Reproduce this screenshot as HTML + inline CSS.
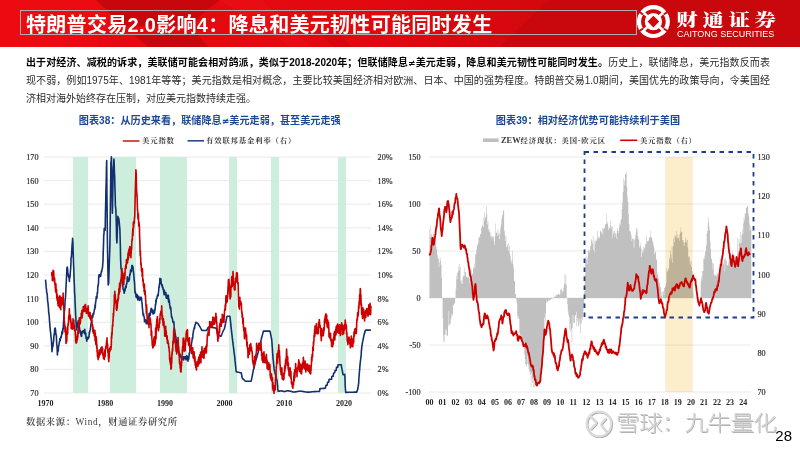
<!DOCTYPE html>
<html lang="zh-CN">
<head>
<meta charset="utf-8">
<title>特朗普交易2.0影响4</title>
<style>
*{margin:0;padding:0;box-sizing:border-box}
html,body{width:800px;height:449px;overflow:hidden;background:#fff}
body{position:relative;font-family:"Liberation Sans","Noto Sans CJK SC",sans-serif}
#hdr{position:absolute;left:0;top:0;width:800px;height:46.6px;overflow:hidden}
#ttl{position:absolute;left:20px;top:10px;width:617px;height:25px;border:1px solid #b4aab4}
#ttl span{position:absolute;left:5px;top:0px;font-family:"Liberation Sans","Noto Sans CJK SC",sans-serif;font-weight:700;font-size:20px;letter-spacing:0.3px;line-height:28px;color:#fff;white-space:nowrap}
#cn{position:absolute;left:676.3px;top:10.6px;font-family:"Liberation Serif","Noto Serif CJK SC",serif;font-weight:900;font-size:21.5px;line-height:24px;letter-spacing:4.6px;color:#fff;white-space:nowrap;transform:scaleY(0.77);transform-origin:0 0}
#en{position:absolute;left:677px;top:28.8px;font-family:"Liberation Sans",sans-serif;font-size:9px;line-height:10px;color:#fff;white-space:nowrap}
#para{position:absolute;left:26px;top:54px;width:744px;height:54px;font-family:"Liberation Sans","Noto Sans CJK SC",sans-serif;font-size:10px;line-height:17.7px;color:#2a2a2a;text-align:justify;text-align-last:left}
.pl{position:absolute;left:0;width:744px;white-space:nowrap;text-align:justify;text-align-last:justify;line-height:17.7px}
.pl3{text-align-last:left}
.ne{font-family:"DejaVu Sans",sans-serif;font-size:0.9em}
#para b{color:#000;font-weight:700}
.ctitle{position:absolute;font-family:"Liberation Sans","Noto Sans CJK SC",sans-serif;font-weight:700;font-size:10.15px;line-height:14px;color:#1d4893;white-space:nowrap}
.leg{position:absolute;font-family:"Liberation Serif","Noto Serif CJK SC",serif;font-size:7.3px;line-height:10px;letter-spacing:0.9px;font-weight:700;color:#383838;white-space:nowrap}
#src{position:absolute;left:26px;top:415px;font-family:"Liberation Serif","Noto Serif CJK SC",serif;font-size:9.3px;font-weight:600;letter-spacing:0.62px;line-height:14px;color:#3c3c3c;white-space:nowrap}
#wm{position:absolute;left:616px;top:408px;font-family:"Liberation Sans","Noto Sans CJK SC",sans-serif;font-weight:300;font-size:21px;line-height:30px;color:#d2d2d2;letter-spacing:-0.75px;white-space:nowrap;transform:scaleX(1.13);transform-origin:0 0;text-shadow:0.7px 0.7px 0 #b2b2b2,-0.5px -0.5px 0 #f4f4f4}
#pg{position:absolute;left:775.3px;top:426.5px;font-family:"Liberation Sans",sans-serif;font-size:15px;line-height:17px;color:#000}
svg{position:absolute;left:0;top:0}
.g{stroke:#e4e4e4;stroke-width:0.8}
.axb{font-family:"Liberation Serif",serif;font-size:8px;font-weight:bold;fill:#262626}
.ln{fill:none;stroke-width:1.6;stroke-linejoin:round}
.ln2{fill:none;stroke-width:1.8;stroke-linejoin:round}
.ax{font-family:"Liberation Serif",serif;font-size:8.2px;fill:#262626;stroke:#333;stroke-width:0.18}
</style>
</head>
<body>
<div id="hdr">
<svg width="800" height="47" viewBox="0 0 800 47">
<defs>
<linearGradient id="hg" x1="0" y1="0" x2="1" y2="0">
<stop offset="0" stop-color="#e80a10"/><stop offset="0.45" stop-color="#e2090f"/><stop offset="0.7" stop-color="#d2080d"/><stop offset="1" stop-color="#c8080c"/>
</linearGradient>
</defs>
<rect width="800" height="47" fill="url(#hg)"/>
<polygon points="0,0 96,0 107,10.5 96,47 0,47" fill="#ec0c12" opacity="0.7"/>
<polygon points="96,0 220,0 206,10.5 190,26 122,26 107,10.5" fill="#c8070c"/>
<polygon points="134,34.5 197,34.5 209,47 148,47" fill="#c8070c"/>
<polygon points="220,0 262,0 300,38 310,46 290,46" fill="#ec1016" opacity="0.6"/>
<polygon points="549,0 800,0 800,47 499,47" fill="#c9080d"/>
<polygon points="322,35 340,35 352,47 334,47" fill="#d0070c" opacity="0.6"/>
<g fill="#fff">
<circle cx="653.4" cy="21.6" r="16.5"/>
</g>
<g fill="none" stroke="#cc080d">
<circle cx="653.4" cy="21.6" r="10.5" stroke-width="3.6"/>
</g>
<g stroke="#fff" stroke-width="2.6" stroke-linecap="butt">
<line x1="647.6" y1="16.4" x2="643.6" y2="12.6"/>
<line x1="659.2" y1="16.4" x2="663.2" y2="12.6"/>
<line x1="647.6" y1="26.8" x2="643.6" y2="30.6"/>
<line x1="659.2" y1="26.8" x2="663.2" y2="30.6"/>
</g>
<g stroke="#cc080d" stroke-width="1.9">
<line x1="643.0" y1="14.6" x2="637.4" y2="10.6"/>
<line x1="663.8" y1="14.6" x2="669.4" y2="10.6"/>
<line x1="643.0" y1="28.6" x2="637.4" y2="32.6"/>
<line x1="663.8" y1="28.6" x2="669.4" y2="32.6"/>
</g>
<polygon points="653.4,15.8 659.2,21.6 653.4,27.4 647.6,21.6" fill="#cc080d"/>
</svg>
<div id="ttl"><span>特朗普交易2.0影响4：降息和美元韧性可能同时发生</span></div>
<div id="cn">财通证券</div>
<div id="en">CAITONG SECURITIES</div>
</div>

<div id="para"><div class="pl" style="top:0"><b>出于对经济、减税的诉求，美联储可能会相对鸽派，类似于2018-2020年；但联储降息<span class="ne">≠</span>美元走弱，降息和美元韧性可能同时发生。</b>历史上，联储降息，美元指数反而表</div><div class="pl" style="top:18px">现不弱，例如1975年、1981年等等；美元指数是相对概念，主要比较美国经济相对欧洲、日本、中国的强势程度。特朗普交易1.0期间，美国优先的政策导向，令美国经</div><div class="pl pl3" style="top:36.2px">济相对海外始终存在压制，对应美元指数持续走强。</div></div>

<div class="ctitle" style="left:78.8px;top:113.8px">图表38：从历史来看，联储降息<span class="ne">≠</span>美元走弱，甚至美元走强</div>
<div class="ctitle" style="left:495.8px;top:114px;letter-spacing:0.05px">图表39：相对经济优势可能持续利于美国</div>

<svg width="800" height="449" viewBox="0 0 800 449" style="top:0;left:0">
<line x1="122.8" x2="139.5" y1="141" y2="141" stroke="#d42020" stroke-width="1.6"/>
<line x1="187.5" x2="204" y1="140.8" y2="140.8" stroke="#2a4690" stroke-width="1.6"/>
<rect x="483" y="138.4" width="15.6" height="3.6" fill="#bfbfbf"/>
<line x1="620.2" x2="637.3" y1="140.3" y2="140.3" stroke="#d00000" stroke-width="1.6"/>
<line x1="44" x2="371.2" y1="393" y2="393" class="g"/>
<line x1="44" x2="371.2" y1="369.4" y2="369.4" class="g"/>
<line x1="44" x2="371.2" y1="345.8" y2="345.8" class="g"/>
<line x1="44" x2="371.2" y1="322.2" y2="322.2" class="g"/>
<line x1="44" x2="371.2" y1="298.6" y2="298.6" class="g"/>
<line x1="44" x2="371.2" y1="275" y2="275" class="g"/>
<line x1="44" x2="371.2" y1="251.4" y2="251.4" class="g"/>
<line x1="44" x2="371.2" y1="227.8" y2="227.8" class="g"/>
<line x1="44" x2="371.2" y1="204.2" y2="204.2" class="g"/>
<line x1="44" x2="371.2" y1="180.6" y2="180.6" class="g"/>
<line x1="44" x2="371.2" y1="157" y2="157" class="g"/>
<rect x="73" y="157" width="15" height="236" fill="#cdeedd"/>
<rect x="110" y="157" width="26" height="236" fill="#cdeedd"/>
<rect x="160" y="157" width="27" height="236" fill="#cdeedd"/>
<rect x="229" y="157" width="8" height="236" fill="#cdeedd"/>
<rect x="271" y="157" width="8" height="236" fill="#cdeedd"/>
<rect x="338" y="157" width="8" height="236" fill="#cdeedd"/>
<polyline class="ln" stroke="#12306f" points="45.5,279.7 45.7,281.6 46,284.7 46.2,287.9 46.5,289.5 46.7,292.6 47,293.4 47.2,293.9 47.5,299 47.7,301.8 48,302.9 48.2,305.7 48.5,308.7 48.7,312.8 49,314.1 49.2,315.7 49.5,321.2 49.7,322.6 50,327.3 50.2,329 50.5,332.4 50.7,332.8 51,337.1 51.2,338.1 51.5,341.4 51.7,345.1 52,351.6 52.2,349.2 52.5,347 52.7,345.3 53,346.2 53.2,343.2 53.5,341.9 53.7,339.6 54,334.8 54.2,335.3 54.5,332.1 54.7,328.7 55,328.6 55.2,328.1 55.5,329.5 55.7,331.3 55.9,334.8 56.2,334.7 56.4,336.4 56.7,344.5 56.9,345 57.2,350 57.4,355 57.7,349.8 57.9,350 58.2,351.3 58.4,348.1 58.7,345.9 58.9,345.5 59.2,342.8 59.4,342.7 59.7,340.7 59.9,338.6 60.2,340.7 60.4,338.4 60.7,338.4 60.9,336.6 61.2,337.5 61.4,335.9 61.7,334.5 61.9,332.1 62.2,331 62.4,333.6 62.7,332.1 62.9,328.4 63.2,329.2 63.4,324 63.7,320.6 63.9,315.7 64.2,313.4 64.4,311.5 64.7,308.3 64.9,304.9 65.2,299.1 65.4,298.6 65.6,295.1 65.9,289.9 66.1,285 66.4,279.4 66.6,275.1 66.9,267.8 67.1,267.4 67.4,267.1 67.6,269.7 67.9,272.7 68.1,273.7 68.4,276.3 68.6,275.3 68.9,277.8 69.1,277.9 69.4,281.5 69.6,277 69.9,277.7 70.1,276 70.4,271.3 70.6,269.6 70.9,264.1 71.1,257.3 71.4,257.7 71.6,253.5 71.9,248.5 72.1,244.5 72.4,241.8 72.6,238.3 72.9,242.1 73.1,249.6 73.4,259.1 73.6,265 73.9,272.1 74.1,280.9 74.4,285.3 74.6,292.7 74.9,296 75.1,303 75.4,309.1 75.6,314 75.8,317.3 76.1,323.8 76.3,326.6 76.6,327.4 76.8,329.9 77.1,324.7 77.3,327.4 77.6,322.9 77.8,324.2 78.1,320.9 78.3,320.8 78.6,324.7 78.8,322.2 79.1,323.4 79.3,327 79.6,328.8 79.8,330.1 80.1,332.7 80.3,330.7 80.6,333.7 80.8,333.8 81.1,335.6 81.3,336.1 81.6,336.3 81.8,332.1 82.1,333.4 82.3,331.2 82.6,331.9 82.8,332.2 83.1,331.1 83.3,331.4 83.6,330.7 83.8,331.5 84.1,331.5 84.3,333.2 84.6,332.6 84.8,329.2 85.1,333.2 85.3,334.7 85.5,333.7 85.8,333.2 86,338.2 86.3,337.4 86.5,339 86.8,341.1 87,337.4 87.3,338.4 87.5,338.1 87.8,339.1 88,337.2 88.3,338.4 88.5,337.5 88.8,337.7 89,336.7 89.3,332 89.5,333.4 89.8,331.2 90,330.5 90.3,329.9 90.5,328.2 90.8,324.8 91,324.3 91.3,322.3 91.5,320.2 91.8,316.8 92,315.7 92.3,315.5 92.5,316.5 92.8,317.3 93,313.7 93.3,313.4 93.5,314.6 93.8,313.3 94,311.9 94.3,310.4 94.5,308.8 94.8,309.3 95,305 95.3,307.4 95.5,303 95.7,302 96,300 96.2,297.1 96.5,296.2 96.7,298.5 97,297.7 97.2,292.7 97.5,293.5 97.7,289.2 98,285 98.2,285.6 98.5,283.3 98.7,277 99,274.9 99.2,275.2 99.5,274.6 99.7,275.8 100,276.6 100.2,274.5 100.5,275.5 100.7,276.3 101,273.1 101.2,272.9 101.5,270.9 101.7,271.5 102,269.8 102.2,268.9 102.5,267.5 102.7,264.6 103,261.2 103.2,252.5 103.5,245.4 103.7,235.8 104,233.6 104.2,228.5 104.5,229.4 104.7,228.8 105,230.3 105.2,228.5 105.4,214.5 105.7,203.3 105.9,191.9 106.2,181.9 106.4,169.4 106.7,160.6 106.9,191.7 107.2,217.6 107.4,240.4 107.7,258.6 107.9,271.2 108.2,284.9 108.4,284.3 108.7,283.5 108.9,277.4 109.2,266.3 109.4,259.6 109.7,251.6 109.9,243.7 110.2,224.3 110.4,201.3 110.7,179.7 110.9,162.1 111.2,161.4 111.4,156.8 111.7,171.1 111.9,185 112.2,204.7 112.4,213.2 112.7,198.3 112.9,185.4 113.2,173.4 113.4,167.9 113.7,164.7 113.9,159.1 114.2,163.5 114.4,171.7 114.7,176.3 114.9,186.6 115.2,196.2 115.4,206.2 115.6,207.5 115.9,209.9 116.1,216.5 116.4,227.9 116.6,238.6 116.9,242.9 117.1,238 117.4,229.9 117.6,224.1 117.9,216.3 118.1,217.4 118.4,217.7 118.6,218.3 118.9,219.3 119.1,221.1 119.4,224 119.6,226.3 119.9,229.7 120.1,237.5 120.4,248.6 120.6,259.3 120.9,265.9 121.1,269.2 121.4,269.2 121.6,274 121.9,277.8 122.1,281.1 122.4,284.8 122.6,286 122.9,286.9 123.1,289.2 123.4,289.6 123.6,290.2 123.9,290.3 124.1,293.3 124.4,291.7 124.6,291.9 124.9,288.8 125.1,290.5 125.3,287.9 125.6,286 125.8,287.9 126.1,287.7 126.3,285.1 126.6,283.9 126.8,283.8 127.1,280.2 127.3,276.9 127.6,280.1 127.8,280 128.1,281.2 128.3,279.3 128.6,281.5 128.8,281.3 129.1,277.9 129.3,279.9 129.6,275.9 129.8,274.1 130.1,274.8 130.3,273.2 130.6,270.1 130.8,272 131.1,271.5 131.3,271.6 131.6,268.6 131.8,265.6 132.1,265.4 132.3,267.1 132.6,266 132.8,266.6 133.1,267.9 133.3,271.1 133.6,272.9 133.8,275.3 134.1,278.6 134.3,280.7 134.6,283.8 134.8,289.1 135.1,293.2 135.3,291.4 135.5,293.4 135.8,294.3 136,296.9 136.3,294.2 136.5,297.6 136.8,297 137,294.4 137.3,295.2 137.5,297.1 137.8,300 138,298.7 138.3,299.8 138.5,298.6 138.8,296.4 139,298.9 139.3,300 139.5,300.3 139.8,298.4 140,298.2 140.3,299.2 140.5,297.5 140.8,299.7 141,297 141.3,297.6 141.5,298 141.8,301.9 142,303 142.3,306.4 142.5,309.2 142.8,311.6 143,314.3 143.3,315.7 143.5,313.7 143.8,316.2 144,316.8 144.3,316.8 144.5,321.8 144.8,321.1 145,320.1 145.2,320.1 145.5,321.6 145.7,319.9 146,321.4 146.2,323.7 146.5,323.4 146.7,320.6 147,320.8 147.2,323.8 147.5,318.8 147.7,319.6 148,318.2 148.2,320.2 148.5,319.3 148.7,319.6 149,313.6 149.2,316.6 149.5,313.3 149.7,315.7 150,313.7 150.2,315.5 150.5,312.8 150.7,310.1 151,312.4 151.2,308.3 151.5,308.5 151.7,309.7 152,309.5 152.2,310.5 152.5,310.9 152.7,312.5 153,313.9 153.2,312.9 153.5,313.6 153.7,313.6 154,311.5 154.2,309.9 154.5,313 154.7,310.5 155,310 155.2,308.8 155.4,304.6 155.7,304.9 155.9,300.4 156.2,302 156.4,298.7 156.7,298.5 156.9,298.6 157.2,296.1 157.4,296.5 157.7,294.7 157.9,295 158.2,295.8 158.4,293.1 158.7,290.6 158.9,287 159.2,287.4 159.4,283.8 159.7,283.9 159.9,278.3 160.2,279.1 160.4,281.1 160.7,279.6 160.9,278.9 161.2,283.6 161.4,284 161.7,284.5 161.9,286 162.2,284.8 162.4,287.3 162.7,288 162.9,287.1 163.2,289.8 163.4,289 163.7,291.8 163.9,293 164.2,294.8 164.4,290.2 164.7,293.7 164.9,293.3 165.1,294.1 165.4,294.3 165.6,294.8 165.9,292.6 166.1,297.2 166.4,298.1 166.6,297.5 166.9,298.1 167.1,295.4 167.4,295.4 167.6,298.2 167.9,298.9 168.1,297.7 168.4,295.4 168.6,302.2 168.9,298.8 169.1,302.4 169.4,300.7 169.6,305 169.9,305.2 170.1,308.2 170.4,308.8 170.6,307 170.9,309.2 171.1,312.4 171.4,314.6 171.6,317.5 171.9,316.9 172.1,317.7 172.4,318.8 172.6,319.8 172.9,322.2 173.1,321.7 173.4,322.6 173.6,321.7 173.9,321.9 174.1,326.4 174.4,328.8 174.6,329.4 174.9,331.8 175.1,333.6 175.3,334.2 175.6,337.2 175.8,336.5 176.1,339.1 176.3,340 176.6,341.9 176.8,343.9 177.1,345.4 177.3,345.6 177.6,347.1 177.8,346.8 178.1,348 178.3,350.8 178.6,349.7 178.8,352.5 179.1,352.4 179.3,352.8 179.6,356.1 179.8,353.9 180.1,354.3 180.3,355.3 180.6,356.1 180.8,356.6 181.1,357.9 181.3,357.4 181.6,358.3 181.8,357.5 182.1,359.3 182.3,357.3 182.6,357.4 182.8,357.8 183.1,358.2 183.3,356.8 183.6,360 183.8,356.9 184.1,357.3 184.3,357.2 184.6,357.1 184.8,358.5 185,358 185.3,356.7 185.5,357 185.8,357.3 186,359.7 186.3,356.8 186.5,355.9 186.8,356.2 187,357.3 187.3,359.8 187.5,356.3 187.8,357.8 188,361.2 188.3,357.1 188.5,359.5 188.8,358.3 189,356.3 189.3,352.7 189.5,354 189.8,352.1 190,349 190.3,347.9 190.5,349 190.8,347.8 191,348 191.3,345.9 191.5,343 191.8,341.7 192,340.6 192.3,337.9 192.5,338.9 192.8,336.4 193,333.8 193.3,332.6 193.5,330.4 193.8,329.9 194,329.4 194.3,327.3 194.5,328.4 194.8,326.1 195,325.3 195.2,324.5 195.5,323.7 195.7,322.9 196,322.2 196.2,322.4 196.5,322.6 196.7,322.7 197,322.9 197.2,323.1 197.5,323.2 197.7,323.4 198,323.7 198.2,324.1 198.5,324.5 198.7,324.9 199,325.2 199.2,325.6 199.5,326 199.7,326.3 200,326.7 200.2,327.1 200.5,327.6 200.7,328.1 201,328.6 201.2,329.1 201.5,329.6 201.7,330.1 202,330.5 202.2,330.5 202.5,330.5 202.7,330.5 203,330.5 203.2,330.5 203.5,330.5 203.7,330.5 204,330.5 204.2,330.5 204.5,330.5 204.7,330.5 204.9,330.5 205.2,330.5 205.4,330.5 205.7,330.5 205.9,330.5 206.2,330.5 206.4,330.5 206.7,330.5 206.9,330 207.2,329.5 207.4,329 207.7,328.5 207.9,328 208.2,327.5 208.4,327 208.7,327 208.9,327 209.2,327 209.4,327.1 209.7,327.1 209.9,327.1 210.2,327.2 210.4,327.2 210.7,327.3 210.9,327.3 211.2,327.3 211.4,327.4 211.7,327.4 211.9,327.4 212.2,327.5 212.4,327.5 212.7,327.6 212.9,327.6 213.2,327.6 213.4,327.7 213.7,327.7 213.9,327.7 214.2,327.8 214.4,327.8 214.7,327.9 214.9,327.9 215.1,327.9 215.4,328 215.6,328 215.9,328 216.1,328.1 216.4,328.7 216.6,329.7 216.9,330.7 217.1,331.6 217.4,332.6 217.6,333.6 217.9,334.6 218.1,335.2 218.4,335.3 218.6,335.4 218.9,335.5 219.1,335.6 219.4,335.7 219.6,335.8 219.9,335.9 220.1,336 220.4,336.1 220.6,336.2 220.9,336.3 221.1,336.1 221.4,335.4 221.6,334.8 221.9,334.1 222.1,333.5 222.4,332.8 222.6,332.2 222.9,331.5 223.1,331 223.4,330.6 223.6,330.1 223.9,329.6 224.1,329.1 224.4,328.6 224.6,328.1 224.8,326.9 225.1,325.6 225.3,324.4 225.6,323.2 225.8,322 226.1,320.7 226.3,319.5 226.6,318.3 226.8,317 227.1,316.3 227.3,316.3 227.6,316.3 227.8,316.3 228.1,316.3 228.3,316.3 228.6,316.3 228.8,316.3 229.1,316.3 229.3,316.3 229.6,316.3 229.8,316.3 230.1,317.3 230.3,319.7 230.6,322.2 230.8,324.7 231.1,327.1 231.3,329.4 231.6,331.5 231.8,333.6 232.1,335.8 232.3,337.9 232.6,340 232.8,342.2 233.1,344.2 233.3,346.2 233.6,348.2 233.8,350.1 234.1,352.1 234.3,354.1 234.6,356 234.8,358.1 235,360.4 235.3,362.8 235.5,365.2 235.8,367.5 236,369.9 236.3,371.8 236.5,371.8 236.8,371.9 237,371.9 237.3,372 237.5,372.1 237.8,372.1 238,372.2 238.3,372.2 238.5,372.3 238.8,372.4 239,372.4 239.3,372.5 239.5,372.5 239.8,372.6 240,372.6 240.3,372.7 240.5,372.8 240.8,372.8 241,372.9 241.3,372.9 241.5,374.1 241.8,375.6 242,377.1 242.3,378.3 242.5,378.5 242.8,378.7 243,379 243.3,379.2 243.5,379.4 243.8,379.6 244,379.9 244.3,380.1 244.5,380.3 244.7,380.5 245,380.8 245.2,381 245.5,381.2 245.7,381.2 246,381.2 246.2,381.2 246.5,381.2 246.7,381.2 247,381.2 247.2,381.2 247.5,381.2 247.7,381.2 248,381.2 248.2,381.2 248.5,381.2 248.7,381.2 249,381.2 249.2,381.2 249.5,381.2 249.7,381.2 250,381.2 250.2,381.2 250.5,381.2 250.7,381.2 251,381.2 251.2,380.9 251.5,379.7 251.7,378.4 252,377.2 252.2,375.9 252.5,374.6 252.7,373.4 253,372.1 253.2,370.8 253.5,369.8 253.7,368.8 254,367.8 254.2,366.8 254.5,365.9 254.7,364.9 254.9,363.9 255.2,362.9 255.4,361.9 255.7,361 255.9,360.1 256.2,359.2 256.4,358.4 256.7,357.5 256.9,356.7 257.2,355.8 257.4,354.9 257.7,354.1 257.9,353.2 258.2,352.2 258.4,351.1 258.7,350 258.9,348.8 259.2,347.7 259.4,346.6 259.7,345.5 259.9,344.3 260.2,343.3 260.4,342.3 260.7,341.4 260.9,340.4 261.2,339.5 261.4,338.6 261.7,337.6 261.9,336.7 262.2,335.7 262.4,334.8 262.7,333.9 262.9,332.9 263.2,332 263.4,331.1 263.7,331.1 263.9,331.1 264.2,331.1 264.4,331.1 264.6,331.1 264.9,331.1 265.1,331.1 265.4,331.1 265.6,331.1 265.9,331.1 266.1,331.1 266.4,331.1 266.6,331.1 266.9,331.1 267.1,331.1 267.4,331.1 267.6,331.1 267.9,331.1 268.1,331.1 268.4,331.1 268.6,331.1 268.9,331.1 269.1,331.1 269.4,331.1 269.6,331.1 269.9,331.1 270.1,331.8 270.4,333 270.6,334.2 270.9,335.5 271.1,336.7 271.4,337.9 271.6,339.2 271.9,341.4 272.1,345.1 272.4,348.8 272.6,352.4 272.9,356.1 273.1,359.1 273.4,361.5 273.6,364 273.9,366.5 274.1,368.9 274.4,370.2 274.6,371.2 274.8,372.2 275.1,373.1 275.3,374.1 275.6,375.1 275.8,376.1 276.1,377.1 276.3,378.1 276.6,379 276.8,380 277.1,381 277.3,383.4 277.6,386.2 277.8,388.9 278.1,391.1 278.3,391.2 278.6,391.2 278.8,391.2 279.1,391.1 279.3,391.1 279.6,391.1 279.8,391.1 280.1,391 280.3,391 280.6,391 280.8,390.9 281.1,390.9 281.3,390.9 281.6,390.9 281.8,391 282.1,391.1 282.3,391.1 282.6,391.2 282.8,391.2 283.1,391.3 283.3,391.3 283.6,391.4 283.8,391.5 284.1,391.5 284.3,391.6 284.5,391.5 284.8,391.4 285,391.4 285.3,391.3 285.5,391.2 285.8,391.2 286,391.1 286.3,391 286.5,391 286.8,390.9 287,390.8 287.3,390.8 287.5,390.8 287.8,390.8 288,390.8 288.3,390.9 288.5,390.9 288.8,390.9 289,391 289.3,391 289.5,391 289.8,391.1 290,391.1 290.3,391.1 290.5,391.2 290.8,391.3 291,391.3 291.3,391.4 291.5,391.5 291.8,391.6 292,391.7 292.3,391.7 292.5,391.8 292.8,391.9 293,392 293.3,392.1 293.5,392 293.8,392 294,392 294.3,392 294.5,392 294.7,391.9 295,391.9 295.2,391.9 295.5,391.9 295.7,391.9 296,391.8 296.2,391.8 296.5,391.8 296.7,391.7 297,391.6 297.2,391.6 297.5,391.5 297.7,391.5 298,391.4 298.2,391.3 298.5,391.3 298.7,391.2 299,391.2 299.2,391.1 299.5,391.1 299.7,391.2 300,391.2 300.2,391.2 300.5,391.2 300.7,391.2 301,391.2 301.2,391.3 301.5,391.3 301.7,391.3 302,391.3 302.2,391.3 302.5,391.4 302.7,391.4 303,391.5 303.2,391.5 303.5,391.6 303.7,391.6 304,391.7 304.2,391.7 304.4,391.8 304.7,391.8 304.9,391.9 305.2,391.9 305.4,392 305.7,392 305.9,392 306.2,392 306.4,392 306.7,392.1 306.9,392.1 307.2,392.1 307.4,392.1 307.7,392.1 307.9,392.2 308.2,392.2 308.4,392.2 308.7,392.1 308.9,392.1 309.2,392.1 309.4,392.1 309.7,392.1 309.9,392 310.2,392 310.4,392 310.7,392 310.9,392 311.2,391.9 311.4,391.9 311.7,391.9 311.9,391.8 312.2,391.8 312.4,391.8 312.7,391.8 312.9,391.7 313.2,391.7 313.4,391.7 313.7,391.6 313.9,391.6 314.2,391.6 314.4,391.6 314.6,391.6 314.9,391.6 315.1,391.6 315.4,391.6 315.6,391.6 315.9,391.5 316.1,391.5 316.4,391.5 316.6,391.5 316.9,391.5 317.1,391.5 317.4,391.5 317.6,391.5 317.9,391.5 318.1,391.5 318.4,391.5 318.6,391.5 318.9,391.5 319.1,391.5 319.4,391.5 319.6,390.7 319.9,388.7 320.1,388.6 320.4,388.6 320.6,388.6 320.9,388.6 321.1,388.6 321.4,388.5 321.6,388.5 321.9,388.5 322.1,388.5 322.4,388.5 322.6,388.5 322.9,388.4 323.1,388.4 323.4,388.4 323.6,388.4 323.9,388.4 324.1,388.4 324.3,388.4 324.6,388.3 324.8,388.3 325.1,388.3 325.3,388.3 325.6,387.5 325.8,385.4 326.1,385.3 326.3,385.3 326.6,385.3 326.8,385.2 327.1,385.2 327.3,384.6 327.6,382.4 327.8,382.4 328.1,382.3 328.3,382.3 328.6,382.3 328.8,381.5 329.1,379.4 329.3,379.4 329.6,379.4 329.8,379.4 330.1,379.4 330.3,379.4 330.6,379.4 330.8,379.3 331.1,379.3 331.3,379.3 331.6,379.3 331.8,376.5 332.1,376.3 332.3,376.3 332.6,376.3 332.8,376.3 333.1,376.3 333.3,375.6 333.6,373.2 333.8,373.1 334.1,373.1 334.3,373 334.5,373 334.8,372.3 335,370.5 335.3,370.4 335.5,370.4 335.8,370.4 336,370.4 336.3,370.3 336.5,367.3 336.8,367.2 337,367.2 337.3,367.1 337.5,367.1 337.8,367.1 338,364.7 338.3,364.7 338.5,364.7 338.8,364.7 339,364.7 339.3,364.7 339.5,364.7 339.8,364.7 340,364.7 340.3,364.7 340.5,364.7 340.8,364.7 341,364.7 341.3,364.7 341.5,366.8 341.8,368.4 342,369.4 342.3,370.3 342.5,371.7 342.8,373.3 343,374.7 343.3,374.7 343.5,374.6 343.8,374.6 344,374.5 344.2,374.5 344.5,374.4 344.7,374.4 345,378 345.2,386.1 345.5,389.8 345.7,392.4 346,392.4 346.2,392.4 346.5,392.4 346.7,392.4 347,392.4 347.2,392.4 347.5,392.4 347.7,392.3 348,392.3 348.2,392.3 348.5,392.3 348.7,392.3 349,392.3 349.2,392.3 349.5,392.3 349.7,392.3 350,392.3 350.2,392.3 350.5,392.3 350.7,392.3 351,392.2 351.2,392.2 351.5,392.2 351.7,392.2 352,392.2 352.2,392.2 352.5,392.2 352.7,392.2 353,392.2 353.2,392.2 353.5,392.2 353.7,392.2 354,392.1 354.2,392.1 354.4,392.1 354.7,392.1 354.9,392.1 355.2,392.1 355.4,392.1 355.7,392.1 355.9,392.1 356.2,392.1 356.4,392.1 356.7,392.1 356.9,391.7 357.2,390.9 357.4,390.1 357.7,389.3 357.9,387.9 358.2,386.3 358.4,384.8 358.7,382.8 358.9,378.8 359.2,374.9 359.4,371.8 359.7,368.8 359.9,365.9 360.2,363.1 360.4,361.1 360.7,359.2 360.9,357.2 361.2,354.4 361.4,350.9 361.7,347.8 361.9,346.2 362.2,344.6 362.4,342.9 362.7,341.5 362.9,340.3 363.2,339.1 363.4,337.8 363.7,336.6 363.9,335.6 364.1,334.7 364.4,333.8 364.6,332.9 364.9,332.1 365.1,331.3 365.4,330.4 365.6,330.1 365.9,330.1 366.1,330.1 366.4,330.1 366.6,330.1 366.9,330.1 367.1,330.1 367.4,330.1 367.6,330.1 367.9,330.1 368.1,330.1 368.4,330.1 368.6,330.1 368.9,330.1 369.1,330.1 369.4,330.1 369.6,330.1 369.9,330.1 370.1,330.1 370.4,330.1 370.6,330.1 370.9,330.1"/>
<polyline class="ln" stroke="#cc0000" stroke-width="1.35" points="51.5,272.1 51.6,272.3 51.7,272.6 51.8,275.5 51.9,275 52,273.4 52.1,274.4 52.2,273.2 52.3,279 52.4,280.8 52.5,276 52.6,272 52.7,272.1 52.8,274.5 52.9,277.6 53,275.7 53.1,270.2 53.2,272.8 53.3,276.5 53.4,279.8 53.5,278.1 53.6,270.8 53.7,271.4 53.8,274.3 53.9,275 54,279.3 54.1,278.2 54.2,278.9 54.3,282 54.4,279.7 54.5,278.1 54.6,278.1 54.7,279.3 54.8,281.8 54.9,285.1 55,283.9 55.1,283.2 55.2,286.3 55.3,287.9 55.4,287.2 55.4,288.8 55.5,291 55.6,291.3 55.7,289.2 55.8,286.3 55.9,283.7 56,287.7 56.1,293.1 56.2,289.5 56.3,289.4 56.4,292.2 56.5,289.5 56.6,290.1 56.7,295.9 56.8,298.3 56.9,296.2 57,293.9 57.1,297.5 57.2,300.4 57.3,297.6 57.4,295.5 57.5,298.1 57.6,298.6 57.7,297.1 57.8,301.9 57.9,304.1 58,300.8 58.1,301.3 58.2,305.9 58.3,305.4 58.4,300.4 58.5,297.2 58.6,302.4 58.7,300.7 58.8,298.9 58.9,301.9 59,297.7 59.1,297.8 59.2,299.7 59.3,303.6 59.4,302.8 59.5,302.1 59.6,307.7 59.7,301.5 59.8,295.9 59.9,297.7 60,300.7 60.1,301.4 60.2,297 60.3,296.9 60.4,299.8 60.5,304.8 60.6,305.1 60.7,306.9 60.8,309.7 60.9,305.7 61,304.5 61.1,305 61.2,303.5 61.3,299.9 61.4,297.5 61.5,301 61.6,301.3 61.7,302.3 61.8,304.8 61.9,301.6 62,303 62.1,304.8 62.2,304.7 62.3,303.8 62.4,298.3 62.5,299.6 62.6,301.9 62.7,301.9 62.8,304.1 62.9,304.5 63,299.6 63.1,293 63.2,296.2 63.3,303.1 63.4,304.1 63.5,304.9 63.6,306.2 63.7,306.5 63.8,308.9 63.9,309.7 64,312.7 64.1,316.1 64.2,319.7 64.3,321.3 64.4,322.4 64.5,323.4 64.6,324.2 64.7,325.3 64.8,324.4 64.9,328.6 65,331.8 65.1,331.9 65.2,330.1 65.3,326.4 65.4,327.1 65.5,331.7 65.6,331.6 65.7,334.6 65.8,335.4 65.9,334.9 66,343.4 66.1,338.5 66.2,331.7 66.3,339.2 66.4,342.6 66.5,340.2 66.6,339.3 66.7,340.6 66.8,341 66.9,336.5 67,334 67.1,331.7 67.2,330.9 67.3,327.9 67.4,328.4 67.5,331.1 67.6,332.2 67.7,333.9 67.8,327.2 67.9,325.6 68,326.1 68.1,323.5 68.2,325.3 68.3,324.9 68.4,322.9 68.5,322.2 68.6,319 68.7,316 68.8,317.3 68.9,319.7 69,317.8 69.1,316 69.2,314.3 69.3,309 69.4,308.9 69.5,313.3 69.6,314.7 69.7,315.8 69.8,316.7 69.9,316.5 70,315.2 70.1,315.6 70.2,315 70.3,316.3 70.4,319.3 70.5,322.1 70.6,320.3 70.7,318.6 70.8,319.7 70.9,320.6 71,322.5 71.1,325.7 71.2,328.5 71.3,323 71.4,326.1 71.5,328.6 71.6,323.1 71.7,324.2 71.8,325.6 71.9,323.8 72,326.1 72.1,327.4 72.2,327.5 72.3,329.2 72.4,328.5 72.5,327.2 72.6,325.6 72.7,324.3 72.8,326.8 72.9,323.8 73,318.9 73.1,321.4 73.2,324.4 73.3,326.2 73.4,324.8 73.5,324.1 73.6,328.4 73.7,328.1 73.8,320 73.9,325 74,328.7 74.1,325 74.2,327.2 74.3,325.7 74.4,327.9 74.5,330.3 74.6,325.8 74.7,326.7 74.8,330.4 74.9,330.6 75,331.5 75.1,329.6 75.2,331.3 75.3,333.3 75.3,334.7 75.4,335.8 75.5,334.5 75.6,341.3 75.7,341.9 75.8,339.9 75.9,341.5 76,336.9 76.1,338.3 76.2,343.3 76.3,338.8 76.4,336.9 76.5,336.9 76.6,336.7 76.7,341.3 76.8,342.2 76.9,338.6 77,336.9 77.1,339.4 77.2,340.1 77.3,339.4 77.4,339.6 77.5,334.9 77.6,333 77.7,337.6 77.8,337.6 77.9,333.3 78,330.3 78.1,331 78.2,332.5 78.3,331.2 78.4,332.2 78.5,333.6 78.6,328.2 78.7,325.8 78.8,325.7 78.9,321.7 79,320.8 79.1,322.6 79.2,319.5 79.3,317.9 79.4,322 79.5,321.5 79.6,319.7 79.7,322.2 79.8,322.4 79.9,320.8 80,324.1 80.1,323.7 80.2,320.3 80.3,320.4 80.4,322.5 80.5,321.9 80.6,318.6 80.7,317.4 80.8,319 80.9,317.6 81,317.4 81.1,318.5 81.2,313.5 81.3,314 81.4,316.9 81.5,313.3 81.6,312.7 81.7,314.8 81.8,313.3 81.9,310.4 82,314.7 82.1,317.9 82.2,315.5 82.3,315.8 82.4,315.3 82.5,314.7 82.6,312.4 82.7,312.3 82.8,312.4 82.9,309.8 83,311.2 83.1,311.5 83.2,307 83.3,306.5 83.4,310.4 83.5,310.9 83.6,311.2 83.7,310.4 83.8,307 83.9,308.7 84,310.5 84.1,306.8 84.2,307.1 84.3,308.6 84.4,309.6 84.5,311.5 84.6,310.6 84.7,305.3 84.8,305.2 84.9,310 85,310.3 85.1,309.7 85.2,307.6 85.3,307 85.4,304.6 85.5,304.6 85.6,305.7 85.7,305.7 85.8,307.2 85.9,310.3 86,311.7 86.1,309.3 86.2,309.5 86.3,313.3 86.4,311.3 86.5,308.2 86.6,310.6 86.7,310.4 86.8,310.1 86.9,309 87,310.9 87.1,313.4 87.2,310.7 87.3,308.8 87.4,310.1 87.5,311.4 87.6,312.3 87.7,311.5 87.8,308 87.9,309.8 88,309.2 88.1,305.9 88.2,309.5 88.3,309.7 88.4,311.5 88.5,316.1 88.6,316 88.7,313.9 88.8,312.5 88.9,312.9 89,312.4 89.1,315.6 89.2,315.1 89.3,314.1 89.4,316.4 89.5,314.9 89.6,316.1 89.7,318 89.8,318 89.9,315.9 90,313.3 90.1,312.6 90.2,315.6 90.3,318.3 90.4,318.6 90.5,316.9 90.6,319.4 90.7,318.5 90.8,316.2 90.9,320.3 91,319.3 91.1,316.6 91.2,317.1 91.3,317.6 91.4,318.4 91.5,318.6 91.6,317.1 91.7,320 91.8,320.1 91.9,320.1 92,323 92.1,325.4 92.2,326.6 92.3,324.1 92.4,326.4 92.5,327.1 92.6,324.7 92.7,325.8 92.8,330.7 92.9,331.8 93,327.1 93.1,328.7 93.2,330.1 93.3,333.3 93.4,332.7 93.5,330.1 93.6,330.1 93.7,332.6 93.8,333.3 93.9,330.8 94,331 94.1,332.6 94.2,335.6 94.3,330.3 94.4,331.1 94.5,336.7 94.6,336.1 94.7,337.1 94.8,334.9 94.9,330.4 95,334.2 95.1,340.7 95.2,337.7 95.2,333.1 95.3,334.1 95.4,334.4 95.5,337.8 95.6,340.6 95.7,341.9 95.8,344.5 95.9,340.7 96,339.7 96.1,337.8 96.2,336.9 96.3,343.1 96.4,342.8 96.5,339.4 96.6,341 96.7,347.3 96.8,348.5 96.9,344.9 97,347.4 97.1,352.2 97.2,350.5 97.3,349.8 97.4,354.6 97.5,356.5 97.6,356.9 97.7,356.6 97.8,356.1 97.9,355.6 98,355.5 98.1,359.6 98.2,359.5 98.3,354.4 98.4,353.6 98.5,352.7 98.6,353.8 98.7,356.6 98.8,353.3 98.9,352.8 99,357.6 99.1,353.2 99.2,350 99.3,352.3 99.4,353.5 99.5,355.3 99.6,354.9 99.7,353.2 99.8,350.5 99.9,353.9 100,353.3 100.1,351.3 100.2,354.5 100.3,351.2 100.4,349.5 100.5,353.4 100.6,350 100.7,348.8 100.8,351.6 100.9,349.7 101,347.7 101.1,348.8 101.2,349.5 101.3,350 101.4,349.8 101.5,349.9 101.6,352.5 101.7,348 101.8,347 101.9,350.4 102,347.1 102.1,346.9 102.2,352.5 102.3,352 102.4,352.9 102.5,352.4 102.6,348.4 102.7,351.6 102.8,355 102.9,353.9 103,352.9 103.1,355.2 103.2,354.4 103.3,356.5 103.4,358.4 103.5,355.7 103.6,355.7 103.7,354.6 103.8,356.5 103.9,356.2 104,354.5 104.1,356.6 104.2,358.6 104.3,359.5 104.4,356.3 104.5,355.8 104.6,356.2 104.7,352.6 104.8,350.7 104.9,349.8 105,352 105.1,356.6 105.2,354.2 105.3,351 105.4,350.1 105.5,349.9 105.6,349 105.7,346.8 105.8,347 105.9,346.9 106,346.7 106.1,346.5 106.2,346 106.3,344 106.4,344.6 106.5,342.5 106.6,341.1 106.7,341.7 106.8,340.9 106.9,342.4 107,337.9 107.1,339.2 107.2,346.2 107.3,348.1 107.4,347.6 107.5,343.7 107.6,344 107.7,347.3 107.8,350.6 107.9,352.8 108,351.1 108.1,349.7 108.2,353.3 108.3,356.6 108.4,356 108.5,360.1 108.6,360.1 108.7,358.2 108.8,361.7 108.9,359.6 109,354 109.1,355.3 109.2,358.1 109.3,354.1 109.4,350.7 109.5,351 109.6,348.4 109.7,350.6 109.8,351.1 109.9,350.1 110,351.1 110.1,350.4 110.2,349.9 110.3,347.4 110.4,346.8 110.5,348.6 110.6,348.9 110.7,347.7 110.8,348.4 110.9,349.5 111,347.6 111.1,347.3 111.2,347 111.3,345.8 111.4,340.7 111.5,336 111.6,337.4 111.7,338.5 111.8,334.2 111.9,332.2 112,334.9 112.1,333.6 112.2,331.6 112.3,328.3 112.4,327.6 112.5,325.1 112.6,325.3 112.7,326.5 112.8,325.4 112.9,322.1 113,319.6 113.1,321.2 113.2,317.3 113.3,313.2 113.4,315.1 113.5,316.3 113.6,315.1 113.7,312.5 113.8,308.5 113.9,307.7 114,307 114.1,305.3 114.2,303.8 114.3,300.4 114.4,294.7 114.5,297.4 114.6,298.6 114.7,294.2 114.8,291.4 114.9,293.3 115,295.3 115.1,296.4 115.1,295.8 115.2,294.7 115.3,297.1 115.4,297.6 115.5,298.6 115.6,303 115.7,302.4 115.8,300.1 115.9,302.3 116,302 116.1,300.5 116.2,305.1 116.3,309.5 116.4,305.8 116.5,302.8 116.6,306.3 116.7,310.4 116.8,309.7 116.9,308 117,309.1 117.1,307.6 117.2,306.6 117.3,308.3 117.4,303.8 117.5,302.4 117.6,303.6 117.7,300.8 117.8,298.7 117.9,299.9 118,300.7 118.1,301 118.2,297.5 118.3,294.4 118.4,298.6 118.5,299 118.6,295 118.7,293.3 118.8,290.6 118.9,288.2 119,291.6 119.1,293.4 119.2,293.9 119.3,292.6 119.4,289.2 119.5,284.1 119.6,283.4 119.7,291.1 119.8,291.7 119.9,287 120,287.3 120.1,288.2 120.2,286 120.3,283.2 120.4,282.2 120.5,283.7 120.6,281.3 120.7,280.1 120.8,281.7 120.9,282.5 121,282.4 121.1,278.1 121.2,278.9 121.3,279.6 121.4,274.8 121.5,274.7 121.6,274.8 121.7,275.5 121.8,273 121.9,268.4 122,271.1 122.1,276.9 122.2,280 122.3,275.9 122.4,271.8 122.5,273.8 122.6,275.4 122.7,277.8 122.8,281.1 122.9,280.8 123,280.5 123.1,284 123.2,282.7 123.3,277.3 123.4,280.6 123.5,284.9 123.6,281.9 123.7,280.3 123.8,284.7 123.9,281.7 124,276.8 124.1,278.7 124.2,274.9 124.3,273.4 124.4,278.1 124.5,277.7 124.6,277.8 124.7,279 124.8,276.1 124.9,275.3 125,276 125.1,271.3 125.2,268.2 125.3,268.9 125.4,268.7 125.5,268.5 125.6,266.1 125.7,266.2 125.8,264.7 125.9,265.5 126,268.5 126.1,268.5 126.2,267.8 126.3,263.7 126.4,259.7 126.5,261 126.6,262.8 126.7,261.5 126.8,262.5 126.9,263.7 127,262.1 127.1,262.7 127.2,262.4 127.3,259 127.4,260.1 127.5,261.7 127.6,262.7 127.7,257.4 127.8,257 127.9,257.3 128,253.6 128.1,256.8 128.2,259.6 128.3,256.8 128.4,251.5 128.5,254.7 128.6,257.7 128.7,253.6 128.8,251.9 128.9,249.6 129,250.6 129.1,252.6 129.2,253.2 129.3,249.9 129.4,248.4 129.5,255.4 129.6,253.8 129.7,249.5 129.8,246.5 129.9,247.4 130,251.4 130.1,250.4 130.2,248.1 130.3,249.9 130.4,251.4 130.5,251 130.6,254 130.7,255.3 130.8,255.3 130.9,257.7 131,254.3 131.1,253.8 131.2,252.6 131.3,247.1 131.4,248 131.5,249.8 131.6,248.7 131.7,245.2 131.8,242.2 131.9,241.2 132,239.4 132.1,239.6 132.2,239.6 132.3,240.1 132.4,237.9 132.5,233.5 132.6,234.3 132.7,231.2 132.8,228.6 132.9,235 133,235.5 133.1,232.4 133.2,229.9 133.3,222.3 133.4,224.4 133.5,228.1 133.6,226.9 133.7,225.8 133.8,223.5 133.9,221.2 134,223.5 134.1,222.3 134.2,221.6 134.3,223.2 134.4,218.8 134.5,217.4 134.6,218.2 134.7,217.7 134.8,213.9 134.9,209.8 135,204 135,203.3 135.1,201.5 135.2,195.2 135.3,192.1 135.4,189.4 135.5,184.8 135.6,181.8 135.7,179.2 135.8,175.3 135.9,169.9 136,170.4 136.1,172.9 136.2,173 136.3,178.7 136.4,182.9 136.5,188.6 136.6,190.5 136.7,191.4 136.8,192.7 136.9,196.1 137,196.4 137.1,195.3 137.2,200.2 137.3,203.9 137.4,206.8 137.5,209.6 137.6,211.1 137.7,211.1 137.8,212.4 137.9,216.9 138,219 138.1,218.6 138.2,218.5 138.3,214.2 138.4,214 138.5,218.4 138.6,223 138.7,225.5 138.8,226.2 138.9,223 139,222 139.1,223.7 139.2,224.1 139.3,226.8 139.4,225.9 139.5,230.1 139.6,235.9 139.7,238.9 139.8,239.5 139.9,242.6 140,248.9 140.1,252.3 140.2,255.6 140.3,255 140.4,250.7 140.5,254.5 140.6,258.6 140.7,257.5 140.8,262.3 140.9,264.5 141,264.1 141.1,266 141.2,263.4 141.3,266.7 141.4,270.6 141.5,267.8 141.6,270.7 141.7,271.7 141.8,269.8 141.9,270.4 142,271.9 142.1,271.6 142.2,276.6 142.3,275.8 142.4,268.9 142.5,270.4 142.6,273.3 142.7,278.2 142.8,280.8 142.9,280.4 143,281.9 143.1,279.4 143.2,280.5 143.3,283.1 143.4,285.7 143.5,286.5 143.6,283.8 143.7,285.5 143.8,287.7 143.9,283.9 144,285.6 144.1,291.6 144.2,291.7 144.3,288.5 144.4,284.1 144.5,286.4 144.6,292.2 144.7,294.3 144.8,292 144.9,293.6 145,293.7 145.1,290.4 145.2,293.6 145.3,296 145.4,295.9 145.5,295.3 145.6,299.5 145.7,301.3 145.8,301.1 145.9,305.6 146,305.8 146.1,305.9 146.2,308.9 146.3,312.4 146.4,313.3 146.5,309 146.6,304.9 146.7,307.3 146.8,309.8 146.9,312.9 147,316.2 147.1,315.3 147.2,317.6 147.3,320.4 147.4,318.8 147.5,318.1 147.6,320.7 147.7,320 147.8,319.1 147.9,318.5 148,318.6 148.1,321.4 148.2,321.7 148.3,322 148.4,323.9 148.5,324.9 148.6,322.9 148.7,321.6 148.8,321.1 148.9,325 149,327.7 149.1,325.2 149.2,323.9 149.3,323.7 149.4,324.7 149.5,322.2 149.6,320.8 149.7,323.9 149.8,321.6 149.9,317.5 150,320.7 150.1,320.7 150.2,320.7 150.3,319.9 150.4,318.8 150.5,321.9 150.6,321.9 150.7,323.2 150.8,323.6 150.9,323.2 151,324.9 151.1,327.5 151.2,335.4 151.3,335.6 151.4,333.8 151.5,334.9 151.6,330.9 151.7,332.2 151.8,336.2 151.9,338.4 152,339.3 152.1,341.3 152.2,343.4 152.3,345.4 152.4,343.6 152.5,343.4 152.6,345.1 152.7,346.9 152.8,348 152.9,347.3 153,346.1 153.1,343.8 153.2,343.7 153.3,345.8 153.4,347.1 153.5,342.4 153.6,341 153.7,344.2 153.8,340.8 153.9,338.1 154,339.5 154.1,341.9 154.2,338.4 154.3,336.7 154.4,339.7 154.5,340.4 154.6,343.6 154.7,345.4 154.8,341.9 154.9,338.6 154.9,339.5 155,342 155.1,343.9 155.2,342.1 155.3,341.9 155.4,338.7 155.5,333 155.6,328.5 155.7,328 155.8,333 155.9,335 156,339 156.1,337.5 156.2,330.6 156.3,326.8 156.4,324.4 156.5,324 156.6,323.7 156.7,322.5 156.8,319.3 156.9,321.3 157,323.6 157.1,323.1 157.2,320.4 157.3,316.6 157.4,319.2 157.5,324.6 157.6,326.6 157.7,325.8 157.8,327 157.9,327.9 158,328.1 158.1,329.5 158.2,329.8 158.3,329.7 158.4,330.8 158.5,330.5 158.6,329.9 158.7,327.3 158.8,326.1 158.9,326.1 159,325.4 159.1,327.6 159.2,324.4 159.3,322.7 159.4,322.2 159.5,318.7 159.6,321.9 159.7,323.4 159.8,320.5 159.9,319.3 160,319.6 160.1,315.9 160.2,313.9 160.3,314.2 160.4,314.3 160.5,314.1 160.6,314.3 160.7,314.6 160.8,311.9 160.9,311.5 161,313 161.1,314.7 161.2,313.3 161.3,310.4 161.4,310.9 161.5,312.5 161.6,310.8 161.7,305.8 161.8,308.1 161.9,312.7 162,312.3 162.1,318.2 162.2,319.4 162.3,316.9 162.4,315.5 162.5,315.5 162.6,320.1 162.7,320.8 162.8,319.9 162.9,321.3 163,322.5 163.1,324.7 163.2,325.5 163.3,322.3 163.4,318.9 163.5,319.6 163.6,323.1 163.7,322.8 163.8,322 163.9,321.6 164,322.1 164.1,325.7 164.2,327.7 164.3,327.7 164.4,328.2 164.5,328.7 164.6,331.1 164.7,335.7 164.8,336 164.9,336.4 165,335.2 165.1,331.8 165.2,335 165.3,333.9 165.4,329.5 165.5,330.7 165.6,329.4 165.7,326.4 165.8,331.6 165.9,333.3 166,330.5 166.1,331.7 166.2,331 166.3,333.1 166.4,335.9 166.5,336.2 166.6,336.7 166.7,335.5 166.8,337.4 166.9,339.7 167,336.8 167.1,335.7 167.2,336.7 167.3,340.6 167.4,343.3 167.5,341.6 167.6,340.8 167.7,341.5 167.8,340.6 167.9,340.3 168,342.6 168.1,343.1 168.2,342.6 168.3,344.1 168.4,344 168.5,343 168.6,345.6 168.7,347.3 168.8,347.6 168.9,346.8 169,346.9 169.1,349 169.2,350 169.3,351.4 169.4,351.6 169.5,352.8 169.6,359.6 169.7,358.1 169.8,355.2 169.9,360.5 170,362 170.1,362.4 170.2,359.2 170.3,357.7 170.4,364.4 170.5,364.5 170.6,362.6 170.7,360.4 170.8,361.8 170.9,369.3 171,367.6 171.1,364.4 171.2,365.4 171.3,368.8 171.4,367.5 171.5,361 171.6,363.6 171.7,363 171.8,359.2 171.9,355.6 172,352.4 172.1,355.4 172.2,352.7 172.3,350 172.4,351.5 172.5,349.7 172.6,348.1 172.7,351 172.8,345.1 172.9,341.1 173,344.3 173.1,341.6 173.2,341.8 173.3,343.3 173.4,339.9 173.5,337 173.6,334.5 173.7,330.1 173.8,329.6 173.9,329.2 174,328.3 174.1,332 174.2,333.5 174.3,334.2 174.4,333.7 174.5,332.1 174.6,334.9 174.7,339 174.8,339.7 174.8,339.6 174.9,339.5 175,339.3 175.1,342.9 175.2,341.9 175.3,340.1 175.4,343.7 175.5,343.9 175.6,344.3 175.7,347.7 175.8,347.7 175.9,349.3 176,351.1 176.1,350.8 176.2,348.1 176.3,345.9 176.4,349.9 176.5,350.5 176.6,350.9 176.7,353.9 176.8,353 176.9,352 177,348.1 177.1,347 177.2,352.2 177.3,349.1 177.4,346.6 177.5,348.2 177.6,351.6 177.7,348.1 177.8,340.2 177.9,339.4 178,337.9 178.1,337.5 178.2,340.5 178.3,343 178.4,345.5 178.5,348.9 178.6,346.9 178.7,346.8 178.8,352.2 178.9,353.4 179,352.6 179.1,355.8 179.2,355.9 179.3,356.4 179.4,361.1 179.5,363.5 179.6,358.8 179.7,360.7 179.8,364.6 179.9,361.6 180,361.7 180.1,365.7 180.2,368.2 180.3,366.6 180.4,365.4 180.5,367.6 180.6,371.8 180.7,369.7 180.8,366.5 180.9,368.4 181,372.2 181.1,370.5 181.2,367.7 181.3,365.4 181.4,366.2 181.5,365.9 181.6,362.4 181.7,363 181.8,360.8 181.9,357.2 182,356.7 182.1,354.5 182.2,354.7 182.3,354.5 182.4,350.2 182.5,348.7 182.6,346.5 182.7,348.2 182.8,351.8 182.9,348.2 183,343.8 183.1,339.5 183.2,338.2 183.3,342.5 183.4,341.2 183.5,341.7 183.6,346.3 183.7,340.7 183.8,338 183.9,341.9 184,342 184.1,340.5 184.2,341.6 184.3,343.1 184.4,346 184.5,351.1 184.6,347.3 184.7,342.8 184.8,344.9 184.9,347.6 185,348.8 185.1,350.9 185.2,349 185.3,345.3 185.4,345.7 185.5,344.8 185.6,342.5 185.7,340.9 185.8,340 185.9,341.6 186,340.7 186.1,333.4 186.2,333.8 186.3,336.5 186.4,332.6 186.5,331 186.6,331.7 186.7,336.5 186.8,337 186.9,336.5 187,339.1 187.1,336.3 187.2,335.7 187.3,335.5 187.4,329.6 187.5,329.9 187.6,334.5 187.7,337.7 187.8,340.4 187.9,341 188,341 188.1,341.3 188.2,341.8 188.3,340.7 188.4,341.6 188.5,344.2 188.6,345.2 188.7,342.3 188.8,340.2 188.9,339.6 189,338.2 189.1,341 189.2,342.1 189.3,344.4 189.4,341.9 189.5,337.7 189.6,342.5 189.7,347.1 189.8,346.4 189.9,348 190,350.5 190.1,346.1 190.2,344.7 190.3,347.1 190.4,345.8 190.5,346.9 190.6,348.3 190.7,347.6 190.8,349.8 190.9,348.2 191,348.7 191.1,346.4 191.2,345.8 191.3,345.9 191.4,347 191.5,349.6 191.6,350 191.7,353.6 191.8,351.4 191.9,348.1 192,350.8 192.1,350.1 192.2,349.4 192.3,351.5 192.4,349.6 192.5,349.1 192.6,353.2 192.7,351.6 192.8,347.7 192.9,351.6 193,354.7 193.1,357.2 193.2,358 193.3,354.3 193.4,352.8 193.5,356 193.6,356.6 193.7,352.1 193.8,352 193.9,356.1 194,353.4 194.1,351.8 194.2,354.3 194.3,356.6 194.4,359.9 194.5,361.2 194.6,359.7 194.7,358.4 194.7,357.4 194.8,356.4 194.9,357 195,358 195.1,360.6 195.2,365.2 195.3,364.7 195.4,363.3 195.5,364.2 195.6,363.7 195.7,365.4 195.8,367.6 195.9,366.2 196,364.8 196.1,366.4 196.2,366.4 196.3,366.3 196.4,369.7 196.5,370 196.6,364.5 196.7,365.4 196.8,366.4 196.9,362.4 197,361.5 197.1,365.1 197.2,363.8 197.3,361.8 197.4,365.5 197.5,365.8 197.6,364 197.7,363.1 197.8,364.2 197.9,361.7 198,362.3 198.1,366.1 198.2,363.1 198.3,359.7 198.4,358.9 198.5,361.8 198.6,361.5 198.7,358.5 198.8,357 198.9,359.8 199,362.3 199.1,360.3 199.2,363.3 199.3,363.8 199.4,358.7 199.5,358 199.6,361 199.7,358.4 199.8,355.1 199.9,354.6 200,357.5 200.1,359.1 200.2,355.6 200.3,356.4 200.4,359.3 200.5,356.4 200.6,352.1 200.7,355.3 200.8,362.4 200.9,362.7 201,359.6 201.1,357 201.2,353.9 201.3,353.6 201.4,355.7 201.5,354.9 201.6,355.1 201.7,355.2 201.8,354.4 201.9,349.3 202,346.7 202.1,352.9 202.2,356.1 202.3,355.4 202.4,356.6 202.5,357.1 202.6,355.5 202.7,352.6 202.8,352.1 202.9,355 203,356.7 203.1,357.3 203.2,355.1 203.3,353.4 203.4,351.3 203.5,352 203.6,352.1 203.7,350.6 203.8,352.3 203.9,356.2 204,358.4 204.1,353.5 204.2,348.6 204.3,349.5 204.4,350.5 204.5,351.5 204.6,353.4 204.7,353.7 204.8,351.2 204.9,349.4 205,351.4 205.1,352.5 205.2,351 205.3,349.7 205.4,352.1 205.5,349.5 205.6,347.5 205.7,350.4 205.8,348.2 205.9,346.3 206,349 206.1,349.7 206.2,350.5 206.3,351.7 206.4,352.9 206.5,348.7 206.6,347.1 206.7,347.2 206.8,344.4 206.9,346.4 207,344.3 207.1,341.2 207.2,338.9 207.3,335.3 207.4,334.8 207.5,335.5 207.6,336.3 207.7,335.6 207.8,333.4 207.9,334.5 208,334.6 208.1,333.5 208.2,332.6 208.3,331.4 208.4,332.2 208.5,333.9 208.6,331.2 208.7,332.5 208.8,334.6 208.9,328.4 209,331.7 209.1,335.3 209.2,328.9 209.3,330.2 209.4,326.4 209.5,327.7 209.6,329.4 209.7,321.6 209.8,322.1 209.9,324.9 210,325.5 210.1,326.3 210.2,325.1 210.3,325.1 210.4,327 210.5,323.3 210.6,324.8 210.7,327.2 210.8,324.9 210.9,326.6 211,324.9 211.1,321.9 211.2,326.6 211.3,327.3 211.4,326 211.5,327.1 211.6,325.6 211.7,325.7 211.8,324.1 211.9,324.1 212,324.1 212.1,322.9 212.2,322.9 212.3,323.6 212.4,325.8 212.5,326.7 212.6,324.6 212.7,320.7 212.8,317.8 212.9,317 213,320.1 213.1,322.5 213.2,322.1 213.3,321.6 213.4,319.5 213.5,317.5 213.6,321.4 213.7,324.1 213.8,320 213.9,318.1 214,320.7 214.1,318.9 214.2,319 214.3,321.4 214.4,321.3 214.5,324.1 214.6,321.7 214.6,320.2 214.7,322.6 214.8,321.6 214.9,319.2 215,317.9 215.1,319 215.2,321.7 215.3,321.8 215.4,321.3 215.5,320.5 215.6,317.1 215.7,317.5 215.8,314.4 215.9,313.3 216,315.8 216.1,316.3 216.2,317.6 216.3,317.5 216.4,316.6 216.5,322 216.6,323.4 216.7,321.6 216.8,323.1 216.9,324.6 217,329.9 217.1,334.1 217.2,330.1 217.3,328.9 217.4,336.1 217.5,335.9 217.6,334 217.7,337.9 217.8,341.3 217.9,340.9 218,336.4 218.1,333.6 218.2,334.5 218.3,333.9 218.4,332.4 218.5,336.7 218.6,338.3 218.7,335.3 218.8,336.3 218.9,335.2 219,332.6 219.1,331.4 219.2,333.1 219.3,332.8 219.4,326 219.5,326.4 219.6,332.3 219.7,329.3 219.8,324.6 219.9,323.6 220,326 220.1,324.4 220.2,323.1 220.3,326.3 220.4,325.3 220.5,323.3 220.6,320.9 220.7,319.4 220.8,320.6 220.9,319.9 221,319.6 221.1,319.6 221.2,322.1 221.3,326.3 221.4,322.3 221.5,321.8 221.6,323.6 221.7,321.2 221.8,321.4 221.9,321.9 222,318.4 222.1,322 222.2,322.8 222.3,314.2 222.4,315.7 222.5,319.8 222.6,318.6 222.7,315.3 222.8,318.7 222.9,321.8 223,320 223.1,319.2 223.2,318.6 223.3,318.4 223.4,319.4 223.5,320.5 223.6,320.9 223.7,322.2 223.8,321.3 223.9,320.3 224,322.2 224.1,317.6 224.2,314.2 224.3,317.8 224.4,314 224.5,311.3 224.6,310.8 224.7,309.3 224.8,309.4 224.9,308.8 225,310 225.1,310 225.2,305.1 225.3,307.9 225.4,310.1 225.5,304.1 225.6,304.9 225.7,306.8 225.8,299.9 225.9,296.9 226,296.2 226.1,295.6 226.2,300.1 226.3,301.1 226.4,301.1 226.5,300.8 226.6,301.7 226.7,302.6 226.8,302.1 226.9,299 227,296.9 227.1,300.1 227.2,301.7 227.3,298.4 227.4,297.4 227.5,297.7 227.6,297.4 227.7,296.2 227.8,292.8 227.9,289.7 228,289.5 228.1,286.6 228.2,285.7 228.3,282.7 228.4,279.8 228.5,283.6 228.6,285.3 228.7,290.2 228.8,288.5 228.9,282.2 229,279.2 229.1,283.1 229.2,284.3 229.3,283.4 229.4,286.6 229.5,291.7 229.6,294 229.7,291.9 229.8,292.7 229.9,293.7 230,298.7 230.1,298.9 230.2,296.9 230.3,296.2 230.4,294.4 230.5,292.2 230.6,292.7 230.7,295.8 230.8,296.9 230.9,290.9 231,285.9 231.1,286.8 231.2,287.6 231.3,286.5 231.4,284.5 231.5,283.9 231.6,284 231.7,278.3 231.8,276.6 231.9,282.2 232,285.6 232.1,286.6 232.2,283.7 232.3,281.8 232.4,283 232.5,283 232.6,282 232.7,282.8 232.8,278.7 232.9,274.9 233,271.6 233.1,274.4 233.2,279.8 233.3,277.7 233.4,278.7 233.5,283.5 233.6,285.5 233.7,284.4 233.8,283.6 233.9,285.4 234,285.7 234.1,285.3 234.2,288 234.3,289.2 234.4,289.6 234.5,288.2 234.5,285.5 234.6,285.9 234.7,286.1 234.8,286.4 234.9,289.3 235,290.1 235.1,285.9 235.2,282.9 235.3,281.1 235.4,281.1 235.5,281.8 235.6,278.9 235.7,278.1 235.8,280.8 235.9,282.3 236,280.4 236.1,281.2 236.2,279.9 236.3,275.5 236.4,276.4 236.5,273.9 236.6,272.7 236.7,275.8 236.8,274.8 236.9,276.3 237,275.8 237.1,275.1 237.2,273.5 237.3,273.1 237.4,275.7 237.5,277.9 237.6,282.5 237.7,283.4 237.8,283.5 237.9,282.7 238,282.4 238.1,283 238.2,284.8 238.3,289.4 238.4,293.4 238.5,297.6 238.6,300 238.7,301.8 238.8,306.7 238.9,307.1 239,301 239.1,301.7 239.2,306.5 239.3,307.3 239.4,309.1 239.5,305.5 239.6,302.6 239.7,304.2 239.8,301.1 239.9,297.2 240,302.2 240.1,304.8 240.2,302.2 240.3,303.4 240.4,303.8 240.5,304.6 240.6,302.7 240.7,301.6 240.8,303.9 240.9,302.9 241,302.3 241.1,304.1 241.2,305.5 241.3,303.6 241.4,303.7 241.5,307.5 241.6,310.7 241.7,312 241.8,313.2 241.9,313.3 242,311.8 242.1,316.5 242.2,317.8 242.3,313.8 242.4,314.3 242.5,317.9 242.6,316.8 242.7,317.1 242.8,322.3 242.9,323.8 243,322.5 243.1,319.7 243.2,318.4 243.3,320.6 243.4,325.6 243.5,327.9 243.6,328.2 243.7,328.1 243.8,330.4 243.9,330.7 244,327.2 244.1,328.7 244.2,330.4 244.3,333.1 244.4,337.9 244.5,338.7 244.6,335.5 244.7,333.9 244.8,336 244.9,334.4 245,332.9 245.1,331.1 245.2,328.4 245.3,330.6 245.4,328.8 245.5,328.1 245.6,331.1 245.7,333.9 245.8,333.5 245.9,332.6 246,334.9 246.1,337.2 246.2,335.7 246.3,336.2 246.4,340.6 246.5,338.1 246.6,334.8 246.7,336.9 246.8,343.3 246.9,346 247,342.8 247.1,342.8 247.2,342.1 247.3,345.6 247.4,348.2 247.5,347.9 247.6,347.8 247.7,347.8 247.8,349.4 247.9,351.4 248,356.8 248.1,357.7 248.2,356.1 248.3,355.9 248.4,352.5 248.5,348.2 248.6,349.7 248.7,353.8 248.8,354.3 248.9,353.6 249,350.6 249.1,348.7 249.2,350.3 249.3,350.7 249.4,354.1 249.5,353.7 249.6,351 249.7,347.9 249.8,344.7 249.9,346.9 250,348.3 250.1,344.5 250.2,346 250.3,350.9 250.4,350.1 250.5,350 250.6,350.1 250.7,347.6 250.8,343.5 250.9,347.3 251,350.1 251.1,346.8 251.2,347.3 251.3,348.2 251.4,349.1 251.5,347.4 251.6,348 251.7,350.6 251.8,350.6 251.9,351 252,352.2 252.1,351.5 252.2,352 252.3,354.4 252.4,355.3 252.5,358.2 252.6,360.5 252.7,361.4 252.8,360.3 252.9,360.5 253,363.5 253.1,362.5 253.2,360.5 253.3,364.7 253.4,363.4 253.5,361 253.6,364.9 253.7,363.8 253.8,364.3 253.9,368 254,363.6 254.1,363.7 254.2,367.1 254.3,363 254.4,364.1 254.4,365.1 254.5,361.8 254.6,356.7 254.7,358.6 254.8,362.7 254.9,359.8 255,359.4 255.1,362.5 255.2,361.7 255.3,359.2 255.4,358.9 255.5,356.7 255.6,354.8 255.7,355.1 255.8,355.4 255.9,357.1 256,357 256.1,353.7 256.2,353.2 256.3,352.5 256.4,352.3 256.5,348.8 256.6,343.2 256.7,346.4 256.8,349.2 256.9,348.6 257,346.8 257.1,345.4 257.2,347.2 257.3,348.1 257.4,348.1 257.5,350 257.6,349.5 257.7,349.4 257.8,350.1 257.9,349.1 258,348.6 258.1,348.1 258.2,347.5 258.3,348.3 258.4,348.3 258.5,346.3 258.6,346.3 258.7,345 258.8,343.2 258.9,346.5 259,347.1 259.1,345.8 259.2,343.8 259.3,344.2 259.4,348.4 259.5,348.3 259.6,344 259.7,343.8 259.8,347 259.9,346.1 260,349.9 260.1,350 260.2,346.1 260.3,345.8 260.4,345.3 260.5,345.5 260.6,347.1 260.7,347 260.8,346.3 260.9,342.2 261,342.1 261.1,345.5 261.2,348.3 261.3,351.1 261.4,348.5 261.5,350.3 261.6,355.6 261.7,354.9 261.8,355.1 261.9,352.6 262,357.2 262.1,360.3 262.2,355 262.3,357.8 262.4,360.3 262.5,357.7 262.6,353.8 262.7,356.3 262.8,362.2 262.9,359 263,353.6 263.1,355.9 263.2,362.4 263.3,359.1 263.4,355.4 263.5,355.8 263.6,355.4 263.7,357.9 263.8,358.5 263.9,355.1 264,351.7 264.1,357.9 264.2,362.5 264.3,356 264.4,355.5 264.5,361.5 264.6,361.3 264.7,359.5 264.8,360.2 264.9,361.3 265,362.1 265.1,362.5 265.2,361.5 265.3,362 265.4,363 265.5,361.6 265.6,358.7 265.7,357.6 265.8,360 265.9,359.6 266,358.5 266.1,357.4 266.2,357.1 266.3,355.7 266.4,354.4 266.5,358 266.6,361.6 266.7,360.3 266.8,359.1 266.9,361.2 267,365.1 267.1,368.6 267.2,365.7 267.3,361.5 267.4,361.1 267.5,365.1 267.6,365.1 267.7,363.8 267.8,364.9 267.9,363.1 268,365.2 268.1,367 268.2,369.2 268.3,369.8 268.4,369.4 268.5,367.1 268.6,363.9 268.7,363.2 268.8,362.7 268.9,365.6 269,365.7 269.1,365.3 269.2,365 269.3,364.2 269.4,367.6 269.5,368.7 269.6,367.4 269.7,368.5 269.8,367.6 269.9,364.6 270,367.4 270.1,371.7 270.2,375.7 270.3,376.1 270.4,373.6 270.5,377.9 270.6,377.4 270.7,373.3 270.8,375.8 270.9,378.2 271,379.1 271.1,377.3 271.2,378.4 271.3,380.5 271.4,374.5 271.5,374 271.6,376.7 271.7,377.2 271.8,380.3 271.9,380.2 272,378.1 272.1,380.6 272.2,381.5 272.3,378.3 272.4,377.8 272.5,383.6 272.6,388 272.7,388.9 272.8,385.9 272.9,382.5 273,383.6 273.1,386.8 273.2,390.6 273.3,389.4 273.4,387.7 273.5,389.9 273.6,389.9 273.7,387 273.8,386.7 273.9,389.5 274,393.4 274.1,391.8 274.2,387.6 274.3,387.4 274.3,388.3 274.4,389 274.5,386.8 274.6,385.6 274.7,386.5 274.8,388.1 274.9,389.3 275,387.2 275.1,387.7 275.2,389.9 275.3,387.4 275.4,381.7 275.5,379.5 275.6,377.7 275.7,377 275.8,378.8 275.9,379.7 276,378.6 276.1,372 276.2,368.8 276.3,368.4 276.4,366.1 276.5,365.8 276.6,365.4 276.7,363.1 276.8,359.5 276.9,356.9 277,355.1 277.1,353.6 277.2,356.5 277.3,357.9 277.4,358.9 277.5,357.3 277.6,360.1 277.7,362.9 277.8,353.9 277.9,353 278,358.2 278.1,356.6 278.2,351.2 278.3,350.4 278.4,351.2 278.5,350.4 278.6,351.8 278.7,346.1 278.8,344.9 278.9,351.1 279,352.1 279.1,351.2 279.2,350.3 279.3,350.2 279.4,351.4 279.5,355.9 279.6,356.3 279.7,355.9 279.8,359 279.9,362.6 280,364.7 280.1,365 280.2,365.6 280.3,368.5 280.4,370 280.5,368.2 280.6,370.5 280.7,372 280.8,371.7 280.9,369.1 281,372.3 281.1,374.6 281.2,373.3 281.3,373.6 281.4,369.3 281.5,370.2 281.6,372 281.7,373 281.8,370.4 281.9,367.9 282,369.9 282.1,374.5 282.2,379 282.3,375.3 282.4,374.2 282.5,377.1 282.6,376.7 282.7,379 282.8,378.7 282.9,377 283,378.1 283.1,379.8 283.2,379.9 283.3,379.4 283.4,378.1 283.5,374.4 283.6,373.9 283.7,374.5 283.8,374.3 283.9,379.1 284,377.8 284.1,372.6 284.2,373 284.3,372.1 284.4,373.8 284.5,373.5 284.6,369.5 284.7,365.7 284.8,367.6 284.9,371.4 285,367.4 285.1,367 285.2,365.5 285.3,363.6 285.4,368.3 285.5,365.7 285.6,360.1 285.7,363.4 285.8,362.7 285.9,359.7 286,358.8 286.1,358 286.2,362.4 286.3,360.1 286.4,354.8 286.5,351.2 286.6,349 286.7,350.7 286.8,353.4 286.9,356.4 287,357.7 287.1,359.5 287.2,360.6 287.3,364.9 287.4,365.3 287.5,361.9 287.6,357.9 287.7,356.8 287.8,362.5 287.9,363.1 288,364.7 288.1,367.2 288.2,369.3 288.3,366.7 288.4,363.4 288.5,369 288.6,371.2 288.7,368.4 288.8,368.4 288.9,370.4 289,373.9 289.1,375.8 289.2,373.6 289.3,370.3 289.4,371.4 289.5,374.6 289.6,370.6 289.7,369.7 289.8,370.4 289.9,369 290,369.9 290.1,367.8 290.2,368.8 290.3,371.1 290.4,374.5 290.5,377.7 290.6,375.6 290.7,372.5 290.8,371.9 290.9,371.3 291,374 291.1,378.6 291.2,378.1 291.3,379.1 291.4,381.3 291.5,383.6 291.6,382.1 291.7,382.5 291.8,383.7 291.9,384.7 292,384 292.1,383.7 292.2,384.1 292.3,385 292.4,387.2 292.5,382.3 292.6,382.9 292.7,384.8 292.8,384.1 292.9,388.3 293,386.8 293.1,381.9 293.2,384.4 293.3,384.1 293.4,383.1 293.5,384.9 293.6,382.6 293.7,381 293.8,376 293.9,376.6 294,378.4 294.1,373 294.2,376.8 294.2,381.1 294.3,376.1 294.4,373.4 294.5,373.2 294.6,369.8 294.7,370.6 294.8,374 294.9,377.7 295,375.1 295.1,371.6 295.2,371.1 295.3,368.7 295.4,371.3 295.5,368.3 295.6,363.6 295.7,364.8 295.8,368.6 295.9,371.2 296,370.4 296.1,370.7 296.2,372.1 296.3,370.9 296.4,368.8 296.5,369.2 296.6,370.9 296.7,369.5 296.8,368.3 296.9,375.3 297,376.6 297.1,371.6 297.2,368.6 297.3,368.8 297.4,370.8 297.5,371.3 297.6,369.5 297.7,368.6 297.8,370 297.9,369.8 298,367 298.1,365.9 298.2,369.1 298.3,366.3 298.4,363.8 298.5,363.7 298.6,362.1 298.7,360.8 298.8,359.9 298.9,363.4 299,365.8 299.1,367.4 299.2,364.7 299.3,362.1 299.4,363.2 299.5,365.1 299.6,371.7 299.7,368.9 299.8,364.9 299.9,367.3 300,367.2 300.1,366.1 300.2,365.2 300.3,369 300.4,368.2 300.5,366.7 300.6,369.8 300.7,366.2 300.8,364.2 300.9,368.2 301,373.4 301.1,372.6 301.2,368.5 301.3,369.1 301.4,372.4 301.5,373.7 301.6,373.9 301.7,372 301.8,368 301.9,366.1 302,368.5 302.1,369.5 302.2,366.8 302.3,367.8 302.4,368.6 302.5,363.5 302.6,362.5 302.7,364.2 302.8,364.9 302.9,366 303,367.8 303.1,367.4 303.2,361.9 303.3,357.6 303.4,357.2 303.5,359.6 303.6,361.5 303.7,363.7 303.8,364 303.9,361.7 304,362.7 304.1,362.1 304.2,362.6 304.3,367.7 304.4,368 304.5,368.1 304.6,369 304.7,364.4 304.8,362.6 304.9,364.5 305,362.4 305.1,361 305.2,364.3 305.3,364.6 305.4,363.4 305.5,366.1 305.6,366.4 305.7,369.3 305.8,371.9 305.9,369.7 306,367.3 306.1,367.8 306.2,369.2 306.3,366.9 306.4,364.3 306.5,364.8 306.6,365.1 306.7,367.1 306.8,369.8 306.9,368.4 307,368.3 307.1,369.7 307.2,366.1 307.3,365.5 307.4,370.1 307.5,368.9 307.6,364 307.7,364.8 307.8,366 307.9,367 308,370.1 308.1,370.6 308.2,370.1 308.3,365.7 308.4,367.5 308.5,368 308.6,367.8 308.7,371.2 308.8,368 308.9,366.5 309,367.6 309.1,371.7 309.2,371.6 309.3,370.6 309.4,366.8 309.5,365.4 309.6,369.8 309.7,371.5 309.8,372.8 309.9,373.1 310,370.7 310.1,368.9 310.2,369.8 310.3,370.4 310.4,372 310.5,368.2 310.6,368.8 310.7,374 310.8,371.2 310.9,369.8 311,371 311.1,366.9 311.2,366.5 311.3,365.4 311.4,364.1 311.5,361.9 311.6,357.2 311.7,359.6 311.8,361.2 311.9,360.8 312,359 312.1,354.5 312.2,356.3 312.3,355.7 312.4,354.6 312.5,357 312.6,357 312.7,351 312.8,347 312.9,349.6 313,350.1 313.1,347.8 313.2,349.5 313.3,350.5 313.4,342.1 313.5,342 313.6,345 313.7,341.8 313.8,342 313.9,341.8 314,337.3 314.1,335.7 314.1,335.4 314.2,335.8 314.3,335.4 314.4,334.2 314.5,331.6 314.6,329.9 314.7,332.4 314.8,336.5 314.9,333.2 315,326 315.1,327.3 315.2,332.5 315.3,333.7 315.4,329.4 315.5,330.1 315.6,333.3 315.7,331.9 315.8,328.6 315.9,328.5 316,330.3 316.1,330.7 316.2,327.1 316.3,323.7 316.4,327 316.5,331.8 316.6,333.5 316.7,330.5 316.8,330.9 316.9,330.8 317,329.4 317.1,330.9 317.2,330.6 317.3,330 317.4,332.4 317.5,333.7 317.6,327.8 317.7,329.1 317.8,333.8 317.9,329.6 318,328.8 318.1,331.9 318.2,333.6 318.3,330.2 318.4,325.1 318.5,322.6 318.6,323.4 318.7,323.1 318.8,324 318.9,324.6 319,323.1 319.1,323.1 319.2,320.8 319.3,319.5 319.4,322.8 319.5,322.7 319.6,322.1 319.7,326.4 319.8,326.1 319.9,327.2 320,327.6 320.1,325.3 320.2,326.5 320.3,326.9 320.4,327.9 320.5,329.7 320.6,332.8 320.7,333.9 320.8,334 320.9,336.1 321,335.9 321.1,336 321.2,338.4 321.3,340.8 321.4,337.8 321.5,333.5 321.6,331.7 321.7,330.3 321.8,328.5 321.9,329.2 322,331.5 322.1,334.2 322.2,335.8 322.3,334.8 322.4,332.7 322.5,331.5 322.6,331.9 322.7,332.6 322.8,331.6 322.9,331 323,331.7 323.1,331.7 323.2,333.3 323.3,335.8 323.4,334 323.5,331.6 323.6,332.8 323.7,333.3 323.8,327.9 323.9,327.6 324,331.1 324.1,328.3 324.2,329 324.3,328.4 324.4,322.2 324.5,319.7 324.6,320.7 324.7,320.3 324.8,320.2 324.9,318.5 325,317.9 325.1,319.3 325.2,317.8 325.3,315.9 325.4,316 325.5,316.9 325.6,321.5 325.7,321.1 325.8,313.9 325.9,314.1 326,319.3 326.1,323.1 326.2,321.6 326.3,321.4 326.4,320.2 326.5,318.9 326.6,318.1 326.7,315.1 326.8,321.2 326.9,323.9 327,322.4 327.1,326.3 327.2,327 327.3,325.7 327.4,323.7 327.5,326.2 327.6,326.3 327.7,320.1 327.8,321 327.9,323.6 328,324.8 328.1,327.9 328.2,327.1 328.3,324.7 328.4,325.2 328.5,322.2 328.6,323.1 328.7,327.7 328.8,327.1 328.9,331.1 329,337 329.1,336.5 329.2,336.9 329.3,336.2 329.4,336.8 329.5,336.2 329.6,333 329.7,334.5 329.8,337.7 329.9,337.8 330,335.5 330.1,338.3 330.2,338.9 330.3,335.6 330.4,335.8 330.5,334.7 330.6,333.3 330.7,338 330.8,340.3 330.9,340.7 331,340.4 331.1,341 331.2,341 331.3,339.4 331.4,339.9 331.5,341.5 331.6,346.4 331.7,343.7 331.8,342.1 331.9,343.4 332,343 332.1,344.9 332.2,343.1 332.3,343.4 332.4,343.6 332.5,346.3 332.6,346.7 332.7,343.9 332.8,345.1 332.9,344.1 333,342.6 333.1,339 333.2,342.2 333.3,344.3 333.4,341.6 333.5,338.9 333.6,337.6 333.7,338.3 333.8,337.7 333.9,336.7 334,333.6 334,334.9 334.1,336 334.2,337.3 334.3,336.2 334.4,331.8 334.5,333.2 334.6,332.5 334.7,335 334.8,340 334.9,338.6 335,336 335.1,333.3 335.2,332.4 335.3,332.3 335.4,330.6 335.5,331.1 335.6,334.4 335.7,335.5 335.8,329.3 335.9,331 336,334.8 336.1,327.8 336.2,326.6 336.3,330.8 336.4,331.7 336.5,328.8 336.6,326.8 336.7,330 336.8,330.9 336.9,328.6 337,327.7 337.1,325.4 337.2,327.7 337.3,332.5 337.4,330.9 337.5,324.9 337.6,324.1 337.7,326.9 337.8,324.2 337.9,326.8 338,329.8 338.1,329.3 338.2,331.1 338.3,330.3 338.4,327.7 338.5,329.1 338.6,332.4 338.7,333.1 338.8,330.9 338.9,328.5 339,328.2 339.1,328.9 339.2,329.9 339.3,326.1 339.4,325.6 339.5,326.3 339.6,324.9 339.7,326.5 339.8,330.1 339.9,327.9 340,325.2 340.1,325.6 340.2,329.8 340.3,334.9 340.4,335.5 340.5,334.5 340.6,329.3 340.7,327.1 340.8,328.3 340.9,328.4 341,326.2 341.1,326.3 341.2,326.2 341.3,324.7 341.4,328.5 341.5,328.9 341.6,322.9 341.7,323.2 341.8,326.2 341.9,326.8 342,327.7 342.1,324.9 342.2,324.8 342.3,328.9 342.4,334.3 342.5,333.8 342.6,332.1 342.7,334.6 342.8,330.1 342.9,325.9 343,331 343.1,331.1 343.2,327.2 343.3,330.4 343.4,329.8 343.5,330.8 343.6,333.8 343.7,332.9 343.8,332.3 343.9,327.7 344,327.6 344.1,330.8 344.2,329.6 344.3,327 344.4,325.7 344.5,324.3 344.6,324.7 344.7,328.2 344.8,327.6 344.9,325 345,325.6 345.1,324.9 345.2,320.1 345.3,321.9 345.4,325.4 345.5,322.2 345.6,323.8 345.7,328 345.8,329 345.9,327.1 346,324.6 346.1,325.9 346.2,327.8 346.3,326.3 346.4,325.9 346.5,331.7 346.6,334.3 346.7,332.7 346.8,332.3 346.9,333.7 347,336.9 347.1,338.2 347.2,341 347.3,341.1 347.4,339.5 347.5,339.1 347.6,340.4 347.7,342.5 347.8,342.9 347.9,344.6 348,340.9 348.1,339.2 348.2,339 348.3,339.5 348.4,339.4 348.5,339.8 348.6,341.2 348.7,339.4 348.8,337.9 348.9,337.1 349,338.8 349.1,337.9 349.2,337.8 349.3,339 349.4,338.7 349.5,340.5 349.6,343.1 349.7,343.1 349.8,343.8 349.9,344 350,341.5 350.1,340.9 350.2,343.8 350.3,347.8 350.4,347 350.5,344.1 350.6,341.2 350.7,340.8 350.8,342.3 350.9,339.5 351,339.1 351.1,341.1 351.2,338.1 351.3,336 351.4,338.8 351.5,341.7 351.6,345.4 351.7,345.3 351.8,343.7 351.9,344.6 352,345.9 352.1,346.6 352.2,346.3 352.3,345.1 352.4,341.4 352.5,340.5 352.6,345.1 352.7,346.6 352.8,345.7 352.9,344.9 353,340.7 353.1,338.2 353.2,339.9 353.3,339.7 353.4,339.6 353.5,342.2 353.6,343 353.7,341.7 353.8,336.3 353.9,336.8 353.9,336.8 354,331.7 354.1,333.8 354.2,335.8 354.3,336.1 354.4,335.6 354.5,333 354.6,332.5 354.7,331.5 354.8,329 354.9,330 355,331.3 355.1,331.7 355.2,331.5 355.3,333.1 355.4,332.8 355.5,330.2 355.6,332.2 355.7,328.5 355.8,328.5 355.9,333.4 356,330.7 356.1,332.1 356.2,333.6 356.3,332.4 356.4,332.3 356.5,329.4 356.6,326.7 356.7,323.9 356.8,321.7 356.9,320.2 357,319.2 357.1,320.8 357.2,318.5 357.3,317.4 357.4,319.9 357.5,315.8 357.6,312.8 357.7,314.5 357.8,314 357.9,312.3 358,315.2 358.1,316.2 358.2,315 358.3,313.9 358.4,312.2 358.5,309.2 358.6,306 358.7,308.7 358.8,308.5 358.9,308.1 359,306.9 359.1,302.7 359.2,301.2 359.3,304.5 359.4,304.4 359.5,299 359.6,296.7 359.7,294.5 359.8,296.2 359.9,296.2 360,293.9 360.1,293.4 360.2,290.5 360.3,288.5 360.4,289.1 360.5,290 360.6,292.7 360.7,297.1 360.8,295.7 360.9,294.9 361,301.2 361.1,305.6 361.2,305.8 361.3,304.5 361.4,303.7 361.5,306 361.6,311.9 361.7,314.5 361.8,311.5 361.9,311.6 362,312.5 362.1,314.1 362.2,312.3 362.3,309.8 362.4,313.7 362.5,318.5 362.6,314.7 362.7,312.8 362.8,313.3 362.9,307.9 363,310.6 363.1,312.4 363.2,311 363.3,311.4 363.4,311 363.5,309.3 363.6,309.6 363.7,313.8 363.8,313.5 363.9,314.4 364,317.4 364.1,313.3 364.2,314.5 364.3,319.8 364.4,318.1 364.5,318.2 364.6,321 364.7,316.3 364.8,313.1 364.9,314.9 365,314 365.1,315.6 365.2,317.6 365.3,316.4 365.4,311.1 365.5,310.9 365.6,314 365.7,317 365.8,317.4 365.9,315.8 366,313.5 366.1,310.8 366.2,311.1 366.3,310.1 366.4,310.5 366.5,312.4 366.6,309.6 366.7,308.6 366.8,311 366.9,310 367,310.3 367.1,310.6 367.2,308.7 367.3,310 367.4,312.6 367.5,313.1 367.6,311.7 367.7,314.7 367.8,315.3 367.9,313.5 368,316.1 368.1,314.2 368.2,312.4 368.3,311.2 368.4,308.3 368.5,313.2 368.6,315 368.7,307.2 368.8,304.9 368.9,305.3 369,306.1 369.1,310.7 369.2,312.3 369.3,308.1 369.4,305 369.5,308.1 369.6,310.8 369.7,309.6 369.8,312.8 369.9,314.3 370,308 370.1,303.3 370.2,306.1 370.3,306.4 370.4,306.9 370.5,311.4 370.6,314.8 370.7,312.1 370.8,309.2 370.9,307.1 371,305.9"/>
<text x="38.5" y="396" class="ax" text-anchor="end">70</text>
<text x="38.5" y="372.4" class="ax" text-anchor="end">80</text>
<text x="38.5" y="348.8" class="ax" text-anchor="end">90</text>
<text x="38.5" y="325.2" class="ax" text-anchor="end">100</text>
<text x="38.5" y="301.6" class="ax" text-anchor="end">110</text>
<text x="38.5" y="278" class="ax" text-anchor="end">120</text>
<text x="38.5" y="254.4" class="ax" text-anchor="end">130</text>
<text x="38.5" y="230.8" class="ax" text-anchor="end">140</text>
<text x="38.5" y="207.2" class="ax" text-anchor="end">150</text>
<text x="38.5" y="183.6" class="ax" text-anchor="end">160</text>
<text x="38.5" y="160" class="ax" text-anchor="end">170</text>
<text x="377.6" y="396" class="ax">0%</text>
<text x="377.6" y="372.4" class="ax">2%</text>
<text x="377.6" y="348.8" class="ax">4%</text>
<text x="377.6" y="325.2" class="ax">6%</text>
<text x="377.6" y="301.6" class="ax">8%</text>
<text x="377.6" y="278" class="ax">10%</text>
<text x="377.6" y="254.4" class="ax">12%</text>
<text x="377.6" y="230.8" class="ax">14%</text>
<text x="377.6" y="207.2" class="ax">16%</text>
<text x="377.6" y="183.6" class="ax">18%</text>
<text x="377.6" y="160" class="ax">20%</text>
<text x="45.5" y="406.2" class="axb" text-anchor="middle">1970</text>
<text x="105.2" y="406.2" class="axb" text-anchor="middle">1980</text>
<text x="164.9" y="406.2" class="axb" text-anchor="middle">1990</text>
<text x="224.6" y="406.2" class="axb" text-anchor="middle">2000</text>
<text x="284.3" y="406.2" class="axb" text-anchor="middle">2010</text>
<text x="344" y="406.2" class="axb" text-anchor="middle">2020</text>
<line x1="429" x2="751" y1="392" y2="392" class="g"/>
<line x1="429" x2="751" y1="345" y2="345" class="g"/>
<line x1="429" x2="751" y1="298" y2="298" class="g"/>
<line x1="429" x2="751" y1="251" y2="251" class="g"/>
<line x1="429" x2="751" y1="204" y2="204" class="g"/>
<line x1="429" x2="751" y1="157" y2="157" class="g"/>
<polygon fill="#c0c0c0" points="429.5,298 429.5,229 430,229 430,236.3 430.6,236.3 430.6,225.5 431.1,225.5 431.1,234.1 431.7,234.1 431.7,240.2 432.2,240.2 432.2,241.5 432.8,241.5 432.8,232.5 433.3,232.5 433.3,234.2 433.9,234.2 433.9,241.8 434.4,241.8 434.4,241.9 434.9,241.9 434.9,243.4 435.5,243.4 435.5,244 436,244 436,249.4 436.6,249.4 436.6,246.6 437.1,246.6 437.1,255.3 437.7,255.3 437.7,258 438.2,258 438.2,259 438.8,259 438.8,267.2 439.3,267.2 439.3,262.4 439.8,262.4 439.8,257.3 440.4,257.3 440.4,260.6 440.9,260.6 440.9,265.1 441.5,265.1 441.5,277.7 442,277.7 442,297.4 442.6,297.4 442.6,317.9 443.1,317.9 443.1,341.4 443.7,341.4 443.7,335.2 444.2,335.2 444.2,341.9 444.7,341.9 444.7,334.3 445.3,334.3 445.3,329.3 445.8,329.3 445.8,335.3 446.4,335.3 446.4,329.9 446.9,329.9 446.9,335.9 447.5,335.9 447.5,335.6 448,335.6 448,325.5 448.6,325.5 448.6,311.1 449.1,311.1 449.1,324 449.6,324 449.6,325.5 450.2,325.5 450.2,323.4 450.7,323.4 450.7,318.7 451.3,318.7 451.3,313.7 451.8,313.7 451.8,316.6 452.4,316.6 452.4,314.4 452.9,314.4 452.9,305.2 453.5,305.2 453.5,304.7 454,304.7 454,303.5 454.6,303.5 454.6,303.5 455.1,303.5 455.1,298.3 455.6,298.3 455.6,289.1 456.2,289.1 456.2,275.4 456.7,275.4 456.7,279.2 457.3,279.2 457.3,273 457.8,273 457.8,271.4 458.4,271.4 458.4,267.1 458.9,267.1 458.9,263.7 459.5,263.7 459.5,270.4 460,270.4 460,267.1 460.5,267.1 460.5,281.3 461.1,281.3 461.1,283.5 461.6,283.5 461.6,280.1 462.2,280.1 462.2,283.9 462.7,283.9 462.7,276.8 463.3,276.8 463.3,275.1 463.8,275.1 463.8,276.5 464.4,276.5 464.4,267.6 464.9,267.6 464.9,272 465.4,272 465.4,271.8 466,271.8 466,277.1 466.5,277.1 466.5,276.2 467.1,276.2 467.1,277.8 467.6,277.8 467.6,277.1 468.2,277.1 468.2,277.8 468.7,277.8 468.7,267.9 469.3,267.9 469.3,283.6 469.8,283.6 469.8,278.7 470.3,278.7 470.3,280.2 470.9,280.2 470.9,269 471.4,269 471.4,274.4 472,274.4 472,273.3 472.5,273.3 472.5,274.4 473.1,274.4 473.1,266.8 473.6,266.8 473.6,268.3 474.2,268.3 474.2,263.5 474.7,263.5 474.7,268.2 475.2,268.2 475.2,254.8 475.8,254.8 475.8,253.7 476.3,253.7 476.3,249.6 476.9,249.6 476.9,243.7 477.4,243.7 477.4,245.7 478,245.7 478,243.4 478.5,243.4 478.5,238.3 479.1,238.3 479.1,237 479.6,237 479.6,237.1 480.1,237.1 480.1,234.1 480.7,234.1 480.7,233.8 481.2,233.8 481.2,227.7 481.8,227.7 481.8,224.9 482.3,224.9 482.3,225.9 482.9,225.9 482.9,217.6 483.4,217.6 483.4,226.9 484,226.9 484,220.6 484.5,220.6 484.5,212.1 485,212.1 485,216.8 485.6,216.8 485.6,218.2 486.1,218.2 486.1,206.5 486.7,206.5 486.7,214.1 487.2,214.1 487.2,224.6 487.8,224.6 487.8,220.8 488.3,220.8 488.3,229.2 488.9,229.2 488.9,232 489.4,232 489.4,229.8 489.9,229.8 489.9,232.7 490.5,232.7 490.5,236.4 491,236.4 491,235.7 491.6,235.7 491.6,238.8 492.1,238.8 492.1,236.3 492.7,236.3 492.7,237.7 493.2,237.7 493.2,236.2 493.8,236.2 493.8,241.2 494.3,241.2 494.3,245.1 494.9,245.1 494.9,235.7 495.4,235.7 495.4,223.6 495.9,223.6 495.9,232.5 496.5,232.5 496.5,232.7 497,232.7 497,235.7 497.6,235.7 497.6,228.9 498.1,228.9 498.1,234.3 498.7,234.3 498.7,231 499.2,231 499.2,239.6 499.8,239.6 499.8,233.6 500.3,233.6 500.3,227.9 500.8,227.9 500.8,224.7 501.4,224.7 501.4,219.5 501.9,219.5 501.9,214.2 502.5,214.2 502.5,216.9 503,216.9 503,211.2 503.6,211.2 503.6,210.3 504.1,210.3 504.1,230.5 504.7,230.5 504.7,234.9 505.2,234.9 505.2,240.9 505.7,240.9 505.7,236.2 506.3,236.2 506.3,247.2 506.8,247.2 506.8,246.5 507.4,246.5 507.4,244.6 507.9,244.6 507.9,251.1 508.5,251.1 508.5,243.3 509,243.3 509,246.1 509.6,246.1 509.6,253.5 510.1,253.5 510.1,255.8 510.6,255.8 510.6,260.7 511.2,260.7 511.2,263.3 511.7,263.3 511.7,259.3 512.3,259.3 512.3,250.7 512.8,250.7 512.8,263.8 513.4,263.8 513.4,268 513.9,268 513.9,280.8 514.5,280.8 514.5,281.3 515,281.3 515,293.9 515.5,293.9 515.5,294.1 516.1,294.1 516.1,299.2 516.6,299.2 516.6,302.8 517.2,302.8 517.2,315.5 517.7,315.5 517.7,318.7 518.3,318.7 518.3,316.7 518.8,316.7 518.8,319 519.4,319 519.4,333.6 519.9,333.6 519.9,334 520.4,334 520.4,335.8 521,335.8 521,335.1 521.5,335.1 521.5,344.4 522.1,344.4 522.1,342 522.6,342 522.6,343.4 523.2,343.4 523.2,340.4 523.7,340.4 523.7,349.1 524.3,349.1 524.3,354.6 524.8,354.6 524.8,358.9 525.3,358.9 525.3,364 525.9,364 525.9,366.5 526.4,366.5 526.4,365.5 527,365.5 527,356.2 527.5,356.2 527.5,364 528.1,364 528.1,364.7 528.6,364.7 528.6,369.1 529.2,369.1 529.2,371.5 529.7,371.5 529.7,371.4 530.2,371.4 530.2,374.5 530.8,374.5 530.8,387.3 531.3,387.3 531.3,372.9 531.9,372.9 531.9,378.4 532.4,378.4 532.4,383 533,383 533,377.5 533.5,377.5 533.5,387.3 534.1,387.3 534.1,387.3 534.6,387.3 534.6,380.2 535.1,380.2 535.1,381.4 535.7,381.4 535.7,381.4 536.2,381.4 536.2,386.4 536.8,386.4 536.8,387.3 537.3,387.3 537.3,386.9 537.9,386.9 537.9,382.3 538.4,382.3 538.4,385.7 539,385.7 539,384.3 539.5,384.3 539.5,385.4 540.1,385.4 540.1,383.5 540.6,383.5 540.6,372 541.1,372 541.1,364.6 541.7,364.6 541.7,362.1 542.2,362.1 542.2,355.7 542.8,355.7 542.8,348.1 543.3,348.1 543.3,339.7 543.9,339.7 543.9,340.5 544.4,340.5 544.4,317.6 545,317.6 545,322 545.5,322 545.5,313 546,313 546,302.7 546.6,302.7 546.6,300.4 547.1,300.4 547.1,302 547.7,302 547.7,301.4 548.2,301.4 548.2,299.8 548.8,299.8 548.8,300.7 549.3,300.7 549.3,300.6 549.9,300.6 549.9,299.7 550.4,299.7 550.4,299.8 550.9,299.8 550.9,298.9 551.5,298.9 551.5,298.7 552,298.7 552,298.6 552.6,298.6 552.6,298 553.1,298 553.1,297.5 553.7,297.5 553.7,297.5 554.2,297.5 554.2,297.1 554.8,297.1 554.8,295.7 555.3,295.7 555.3,297.1 555.8,297.1 555.8,294.7 556.4,294.7 556.4,294.9 556.9,294.9 556.9,295.2 557.5,295.2 557.5,294.3 558,294.3 558,294.2 558.6,294.2 558.6,293.2 559.1,293.2 559.1,294.7 559.7,294.7 559.7,294.7 560.2,294.7 560.2,290 560.7,290 560.7,289.6 561.3,289.6 561.3,289.1 561.8,289.1 561.8,293.4 562.4,293.4 562.4,291 562.9,291 562.9,291.1 563.5,291.1 563.5,287.4 564,287.4 564,284.3 564.6,284.3 564.6,273.8 565.1,273.8 565.1,283.8 565.6,283.8 565.6,275.3 566.2,275.3 566.2,285.1 566.7,285.1 566.7,298 567.3,298 567.3,304.3 567.8,304.3 567.8,311.5 568.4,311.5 568.4,315.1 568.9,315.1 568.9,317.1 569.5,317.1 569.5,330 570,330 570,323.6 570.5,323.6 570.5,332.1 571.1,332.1 571.1,328.9 571.6,328.9 571.6,342.6 572.2,342.6 572.2,327.9 572.7,327.9 572.7,314.9 573.3,314.9 573.3,322.7 573.8,322.7 573.8,323.1 574.4,323.1 574.4,323 574.9,323 574.9,315.1 575.4,315.1 575.4,315.4 576,315.4 576,311.7 576.5,311.7 576.5,326.2 577.1,326.2 577.1,321.1 577.6,321.1 577.6,318.1 578.2,318.1 578.2,327 578.7,327 578.7,324.8 579.3,324.8 579.3,318.9 579.8,318.9 579.8,323.3 580.3,323.3 580.3,332.9 580.9,332.9 580.9,318.3 581.4,318.3 581.4,323.2 582,323.2 582,320.1 582.5,320.1 582.5,316.9 583.1,316.9 583.1,310.8 583.6,310.8 583.6,306.1 584.2,306.1 584.2,291.3 584.7,291.3 584.7,274.7 585.3,274.7 585.3,257.9 585.8,257.9 585.8,255.6 586.3,255.6 586.3,259.7 586.9,259.7 586.9,264.2 587.4,264.2 587.4,257.4 588,257.4 588,251.2 588.5,251.2 588.5,249.5 589.1,249.5 589.1,252.4 589.6,252.4 589.6,250.5 590.2,250.5 590.2,245.7 590.7,245.7 590.7,245.8 591.2,245.8 591.2,239.3 591.8,239.3 591.8,240.5 592.3,240.5 592.3,243.5 592.9,243.5 592.9,235.9 593.4,235.9 593.4,249.8 594,249.8 594,252.2 594.5,252.2 594.5,240.9 595.1,240.9 595.1,243.6 595.6,243.6 595.6,238.9 596.1,238.9 596.1,240.5 596.7,240.5 596.7,240.6 597.2,240.6 597.2,231 597.8,231 597.8,237.9 598.3,237.9 598.3,236.8 598.9,236.8 598.9,238.9 599.4,238.9 599.4,236.9 600,236.9 600,231.4 600.5,231.4 600.5,230.8 601,230.8 601,231.8 601.6,231.8 601.6,233.3 602.1,233.3 602.1,228 602.7,228 602.7,235.1 603.2,235.1 603.2,229.3 603.8,229.3 603.8,227.7 604.3,227.7 604.3,228.3 604.9,228.3 604.9,223.7 605.4,223.7 605.4,225 605.9,225 605.9,224 606.5,224 606.5,214.3 607,214.3 607,221.7 607.6,221.7 607.6,223.9 608.1,223.9 608.1,229.9 608.7,229.9 608.7,227.8 609.2,227.8 609.2,227.7 609.8,227.7 609.8,225.5 610.3,225.5 610.3,221 610.8,221 610.8,228.7 611.4,228.7 611.4,226.2 611.9,226.2 611.9,226.3 612.5,226.3 612.5,238.3 613,238.3 613,233.6 613.6,233.6 613.6,231.3 614.1,231.3 614.1,231.1 614.7,231.1 614.7,236.7 615.2,236.7 615.2,232.7 615.7,232.7 615.7,233.8 616.3,233.8 616.3,239.1 616.8,239.1 616.8,231.1 617.4,231.1 617.4,228.1 617.9,228.1 617.9,230.4 618.5,230.4 618.5,233.2 619,233.2 619,223.4 619.6,223.4 619.6,227 620.1,227 620.1,225 620.6,225 620.6,220 621.2,220 621.2,218.8 621.7,218.8 621.7,209.1 622.3,209.1 622.3,201.8 622.8,201.8 622.8,192 623.4,192 623.4,178.2 623.9,178.2 623.9,185.2 624.5,185.2 624.5,180.4 625,180.4 625,174 625.6,174 625.6,174.3 626.1,174.3 626.1,172 626.6,172 626.6,186.7 627.2,186.7 627.2,196.4 627.7,196.4 627.7,202.1 628.3,202.1 628.3,214.3 628.8,214.3 628.8,224.2 629.4,224.2 629.4,230.8 629.9,230.8 629.9,231.2 630.5,231.2 630.5,232.4 631,232.4 631,235.2 631.5,235.2 631.5,240.8 632.1,240.8 632.1,239.1 632.6,239.1 632.6,238.4 633.2,238.4 633.2,238.5 633.7,238.5 633.7,247.8 634.3,247.8 634.3,240.3 634.8,240.3 634.8,238.2 635.4,238.2 635.4,234.7 635.9,234.7 635.9,231.6 636.4,231.6 636.4,227.4 637,227.4 637,229 637.5,229 637.5,235.9 638.1,235.9 638.1,239.9 638.6,239.9 638.6,238.6 639.2,238.6 639.2,247.7 639.7,247.7 639.7,246 640.3,246 640.3,243.2 640.8,243.2 640.8,248.3 641.3,248.3 641.3,256.9 641.9,256.9 641.9,249.8 642.4,249.8 642.4,253.1 643,253.1 643,251.5 643.5,251.5 643.5,246.6 644.1,246.6 644.1,247.5 644.6,247.5 644.6,248.8 645.2,248.8 645.2,243.9 645.7,243.9 645.7,244.3 646.2,244.3 646.2,235.8 646.8,235.8 646.8,242.2 647.3,242.2 647.3,240.9 647.9,240.9 647.9,241.4 648.4,241.4 648.4,240.3 649,240.3 649,236.7 649.5,236.7 649.5,238 650.1,238 650.1,237.5 650.6,237.5 650.6,230.5 651.1,230.5 651.1,237.1 651.7,237.1 651.7,237.9 652.2,237.9 652.2,240.8 652.8,240.8 652.8,242.8 653.3,242.8 653.3,245.4 653.9,245.4 653.9,247.8 654.4,247.8 654.4,254.4 655,254.4 655,252.6 655.5,252.6 655.5,251.7 656,251.7 656,260.1 656.6,260.1 656.6,258.9 657.1,258.9 657.1,274.9 657.7,274.9 657.7,272 658.2,272 658.2,278.6 658.8,278.6 658.8,283.1 659.3,283.1 659.3,282.5 659.9,282.5 659.9,286.8 660.4,286.8 660.4,287.3 660.9,287.3 660.9,296 661.5,296 661.5,291.8 662,291.8 662,297.6 662.6,297.6 662.6,291.1 663.1,291.1 663.1,291.5 663.7,291.5 663.7,295.1 664.2,295.1 664.2,288 664.8,288 664.8,287.5 665.3,287.5 665.3,286.3 665.8,286.3 665.8,282.7 666.4,282.7 666.4,268 666.9,268 666.9,271.5 667.5,271.5 667.5,271.4 668,271.4 668,269.3 668.6,269.3 668.6,268 669.1,268 669.1,257.5 669.7,257.5 669.7,259.7 670.2,259.7 670.2,250.7 670.8,250.7 670.8,254.5 671.3,254.5 671.3,258.7 671.8,258.7 671.8,246.4 672.4,246.4 672.4,263 672.9,263 672.9,246.3 673.5,246.3 673.5,238.3 674,238.3 674,242 674.6,242 674.6,235 675.1,235 675.1,236.4 675.7,236.4 675.7,235.8 676.2,235.8 676.2,231 676.7,231 676.7,238.6 677.3,238.6 677.3,234.9 677.8,234.9 677.8,237.5 678.4,237.5 678.4,238.2 678.9,238.2 678.9,234.1 679.5,234.1 679.5,241.1 680,241.1 680,233 680.6,233 680.6,227.4 681.1,227.4 681.1,231.6 681.6,231.6 681.6,232 682.2,232 682.2,240.3 682.7,240.3 682.7,239.9 683.3,239.9 683.3,242 683.8,242 683.8,245.9 684.4,245.9 684.4,243 684.9,243 684.9,241.8 685.5,241.8 685.5,237.6 686,237.6 686,242.7 686.5,242.7 686.5,239.8 687.1,239.8 687.1,239.8 687.6,239.8 687.6,247.3 688.2,247.3 688.2,257.4 688.7,257.4 688.7,255.9 689.3,255.9 689.3,257.2 689.8,257.2 689.8,264.8 690.4,264.8 690.4,261.7 690.9,261.7 690.9,260.8 691.4,260.8 691.4,267.1 692,267.1 692,270.9 692.5,270.9 692.5,281.3 693.1,281.3 693.1,292.3 693.6,292.3 693.6,298 694.2,298 694.2,298 694.7,298 694.7,298 695.3,298 695.3,298 695.8,298 695.8,298 696.3,298 696.3,298 696.9,298 696.9,298 697.4,298 697.4,298 698,298 698,298 698.5,298 698.5,298 699.1,298 699.1,298 699.6,298 699.6,298 700.2,298 700.2,296.4 700.7,296.4 700.7,282.3 701.2,282.3 701.2,276.5 701.8,276.5 701.8,279.5 702.3,279.5 702.3,270.7 702.9,270.7 702.9,271.1 703.4,271.1 703.4,258.5 704,258.5 704,255.5 704.5,255.5 704.5,258.8 705.1,258.8 705.1,251.4 705.6,251.4 705.6,250.5 706.1,250.5 706.1,245 706.7,245 706.7,233.2 707.2,233.2 707.2,230.9 707.8,230.9 707.8,222.3 708.3,222.3 708.3,217.4 708.9,217.4 708.9,226.6 709.4,226.6 709.4,229.9 710,229.9 710,241.5 710.5,241.5 710.5,249 711,249 711,259.2 711.6,259.2 711.6,257.9 712.1,257.9 712.1,263 712.7,263 712.7,269.6 713.2,269.6 713.2,263.5 713.8,263.5 713.8,274.4 714.3,274.4 714.3,275.5 714.9,275.5 714.9,275.9 715.4,275.9 715.4,274.6 716,274.6 716,274.5 716.5,274.5 716.5,276.9 717,276.9 717,274.6 717.6,274.6 717.6,272.6 718.1,272.6 718.1,280.3 718.7,280.3 718.7,276.7 719.2,276.7 719.2,277 719.8,277 719.8,272.3 720.3,272.3 720.3,266.6 720.9,266.6 720.9,267.4 721.4,267.4 721.4,261.8 721.9,261.8 721.9,266.3 722.5,266.3 722.5,260.2 723,260.2 723,264.1 723.6,264.1 723.6,261.5 724.1,261.5 724.1,258.9 724.7,258.9 724.7,271.5 725.2,271.5 725.2,258.1 725.8,258.1 725.8,260.4 726.3,260.4 726.3,260.4 726.8,260.4 726.8,265.7 727.4,265.7 727.4,265.3 727.9,265.3 727.9,265 728.5,265 728.5,261.5 729,261.5 729,260.8 729.6,260.8 729.6,259.3 730.1,259.3 730.1,252.6 730.7,252.6 730.7,253.3 731.2,253.3 731.2,259.1 731.7,259.1 731.7,258.1 732.3,258.1 732.3,250.8 732.8,250.8 732.8,258.7 733.4,258.7 733.4,254.3 733.9,254.3 733.9,254.8 734.5,254.8 734.5,262.8 735,262.8 735,262.8 735.6,262.8 735.6,262.6 736.1,262.6 736.1,264 736.6,264 736.6,261.3 737.2,261.3 737.2,238.1 737.7,238.1 737.7,253.6 738.3,253.6 738.3,250.3 738.8,250.3 738.8,238.9 739.4,238.9 739.4,243.1 739.9,243.1 739.9,243.6 740.5,243.6 740.5,232.1 741,232.1 741,242.6 741.5,242.6 741.5,235.1 742.1,235.1 742.1,229.3 742.6,229.3 742.6,234 743.2,234 743.2,223.6 743.7,223.6 743.7,217.5 744.3,217.5 744.3,220.5 744.8,220.5 744.8,213.1 745.4,213.1 745.4,214 745.9,214 745.9,207.5 746.4,207.5 746.4,207.8 747,207.8 747,206.3 747.5,206.3 747.5,205.8 748.1,205.8 748.1,213.1 748.6,213.1 748.6,216.2 749.2,216.2 749.2,223.6 749.7,223.6 749.7,230.4 750.3,230.4 750.3,225.9 750.8,225.9 750.8,229 751.3,229 751.3,298"/>
<rect x="665.3" y="157" width="27.4" height="235" fill="#fdeecb" style="mix-blend-mode:multiply"/>
<polyline class="ln2" stroke="#cc0000" points="429.5,255.5 429.7,254.7 429.9,254.1 430.2,254.3 430.4,253 430.6,252.3 430.8,251.5 431,251.1 431.2,249.5 431.5,245.4 431.7,244.8 431.9,244 432.1,240.2 432.3,238 432.5,237.7 432.8,238.2 433,239.5 433.2,241.2 433.4,243.1 433.6,244.8 433.9,244.4 434.1,242.8 434.3,243.5 434.5,241.6 434.7,238.5 434.9,238 435.2,235.5 435.4,234.5 435.6,232.6 435.8,230.2 436,228.9 436.3,226.9 436.5,227.3 436.7,225.7 436.9,223 437.1,221 437.3,218.9 437.6,218.2 437.8,216.9 438,214.1 438.2,213 438.4,212.5 438.6,211.3 438.9,208.5 439.1,208.4 439.3,211.4 439.5,214.7 439.7,215.1 440,217.1 440.2,219.7 440.4,221.2 440.6,225.5 440.8,227.8 441,229.6 441.3,231.7 441.5,232.9 441.7,236 441.9,234.7 442.1,231.7 442.4,230.7 442.6,229.9 442.8,226.3 443,223.8 443.2,222.8 443.4,220.6 443.7,218.6 443.9,216.7 444.1,214.1 444.3,210.8 444.5,209.6 444.7,209.3 445,207 445.2,207 445.4,208.6 445.6,207.9 445.8,207.1 446.1,208.9 446.3,212.3 446.5,211.3 446.7,210.1 446.9,209.1 447.1,204.5 447.4,201.5 447.6,201.5 447.8,201.1 448,200.9 448.2,201.1 448.5,203.4 448.7,204.4 448.9,205.7 449.1,208.6 449.3,210.1 449.5,211.7 449.8,215.4 450,218.4 450.2,220 450.4,222.1 450.6,221 450.8,219.7 451.1,218.5 451.3,217.6 451.5,217.9 451.7,218.1 451.9,217.7 452.2,215.2 452.4,211.7 452.6,212.4 452.8,214.6 453,212.8 453.2,210.7 453.5,210.4 453.7,209.6 453.9,209.2 454.1,208.4 454.3,205.7 454.6,203.3 454.8,203 455,203.2 455.2,201.4 455.4,199.1 455.6,197.7 455.9,197.6 456.1,196.3 456.3,193.8 456.5,195.5 456.7,198.1 456.9,198.3 457.2,198.1 457.4,198.8 457.6,200 457.8,202.5 458,204.7 458.3,206.8 458.5,208.9 458.7,210.4 458.9,212 459.1,214 459.3,219.7 459.6,225.6 459.8,230.4 460,234.5 460.2,239.1 460.4,245.5 460.7,249.2 460.9,248.4 461.1,248.8 461.3,247.4 461.5,246.1 461.7,245.5 462,244.7 462.2,244.9 462.4,245.1 462.6,246.4 462.8,246.1 463,245.5 463.3,245.6 463.5,245.8 463.7,246.9 463.9,247.7 464.1,246.8 464.4,245.4 464.6,246.2 464.8,246.9 465,245.9 465.2,247 465.4,248.8 465.7,249.7 465.9,249.3 466.1,249 466.3,250.8 466.5,252.9 466.7,254.1 467,253.7 467.2,255.2 467.4,257.6 467.6,258.4 467.8,260.4 468.1,262.1 468.3,262.2 468.5,264.1 468.7,266.3 468.9,266.9 469.1,267.8 469.4,269.4 469.6,270.6 469.8,271.7 470,273.8 470.2,275.8 470.5,276.2 470.7,276.3 470.9,277 471.1,279.7 471.3,281.1 471.5,281.4 471.8,283.4 472,284.9 472.2,286 472.4,287.4 472.6,290.9 472.8,294 473.1,295.6 473.3,298.4 473.5,299.8 473.7,297.9 473.9,297.3 474.2,295.9 474.4,293 474.6,291.6 474.8,289.1 475,286.1 475.2,284.5 475.5,284 475.7,285.7 475.9,288.6 476.1,292.8 476.3,294.4 476.6,297.2 476.8,300.8 477,302.2 477.2,302 477.4,301.7 477.6,303 477.9,303.9 478.1,305.5 478.3,307.8 478.5,310 478.7,310.9 478.9,312 479.2,312.9 479.4,315.2 479.6,318.3 479.8,320.2 480,320.7 480.3,322.5 480.5,324.6 480.7,324.5 480.9,325.3 481.1,325.6 481.3,326.7 481.6,327.2 481.8,326.7 482,326.1 482.2,324.7 482.4,325.1 482.7,324.2 482.9,323.3 483.1,324 483.3,324.4 483.5,323.6 483.7,321.6 484,317.4 484.2,316 484.4,315.4 484.6,313.5 484.8,313.5 485,313.6 485.3,315.1 485.5,317.4 485.7,318.3 485.9,317.1 486.1,317.4 486.4,317.3 486.6,317 486.8,318.3 487,317.2 487.2,315.3 487.4,315.7 487.7,316.9 487.9,317 488.1,317.9 488.3,318.6 488.5,319 488.8,321.7 489,323.1 489.2,323.3 489.4,325.2 489.6,326 489.8,327.2 490.1,328.5 490.3,328.8 490.5,330.5 490.7,333.7 490.9,335.8 491.1,335.3 491.4,336.3 491.6,338.7 491.8,339.8 492,340.1 492.2,341.1 492.5,342.3 492.7,344.3 492.9,346.1 493.1,347 493.3,348.1 493.5,350.5 493.8,349.6 494,347.9 494.2,345.7 494.4,342.6 494.6,341.3 494.8,340.7 495.1,341 495.3,339.8 495.5,339 495.7,338.9 495.9,339 496.2,339.5 496.4,338.3 496.6,336.4 496.8,336.4 497,335.7 497.2,333.2 497.5,334.1 497.7,334.4 497.9,332.6 498.1,331.1 498.3,329.2 498.6,327.6 498.8,325 499,322.7 499.2,321.6 499.4,320.7 499.6,320.3 499.9,319.8 500.1,319 500.3,318.6 500.5,318.2 500.7,318.6 500.9,318 501.2,315.4 501.4,316.1 501.6,319 501.8,319 502,319 502.3,322.8 502.5,323.5 502.7,321.8 502.9,320.1 503.1,318.4 503.3,317 503.6,316.5 503.8,317 504,316.6 504.2,313.9 504.4,311.9 504.7,312 504.9,312.1 505.1,310.4 505.3,310.6 505.5,311.5 505.7,310.8 506,310 506.2,310.9 506.4,313.4 506.6,313.8 506.8,313.9 507,314.2 507.3,314.1 507.5,315.1 507.7,314.7 507.9,315.1 508.1,314.8 508.4,313.4 508.6,313.6 508.8,313.4 509,314 509.2,314.1 509.4,314.1 509.7,317.3 509.9,319.3 510.1,320.9 510.3,323 510.5,324.4 510.8,325.2 511,327.3 511.2,329.8 511.4,332.4 511.6,333 511.8,331.4 512.1,331.2 512.3,331.9 512.5,333 512.7,334.2 512.9,334.1 513.1,334.6 513.4,335.6 513.6,334.3 513.8,334.1 514,333.3 514.2,333.4 514.5,334.1 514.7,333.7 514.9,333.7 515.1,333.4 515.3,333.2 515.5,332.4 515.8,332.5 516,331.9 516.2,331.1 516.4,332.6 516.6,333.8 516.9,334.1 517.1,335.5 517.3,334.8 517.5,337.1 517.7,339.8 517.9,340.3 518.2,340.8 518.4,339.9 518.6,336.9 518.8,336.3 519,337.4 519.2,336.5 519.5,337.8 519.7,338.2 519.9,336.5 520.1,336.5 520.3,337.2 520.6,336.8 520.8,337.7 521,338.9 521.2,338.3 521.4,338 521.6,339.5 521.9,340.8 522.1,340.9 522.3,341.4 522.5,341.5 522.7,342 523,343 523.2,344.7 523.4,346.2 523.6,345.7 523.8,346 524,346 524.3,345.3 524.5,345.9 524.7,345 524.9,344.8 525.1,345.9 525.3,346.1 525.6,345.6 525.8,343.4 526,345.1 526.2,347.1 526.4,346 526.7,345.5 526.9,345.8 527.1,348.3 527.3,347.9 527.5,347.9 527.7,349.8 528,350.9 528.2,352.5 528.4,352.9 528.6,352.5 528.8,352.5 529,354.5 529.3,356 529.5,357 529.7,358.5 529.9,359.4 530.1,360.3 530.4,362 530.6,363.7 530.8,364.4 531,365.1 531.2,366 531.4,365.1 531.7,365.2 531.9,366.1 532.1,365.9 532.3,365.8 532.5,367.7 532.8,367.3 533,366.2 533.2,369.6 533.4,370.6 533.6,369.6 533.8,370.6 534.1,374.3 534.3,376.3 534.5,375.8 534.7,377.8 534.9,379.9 535.1,380 535.4,379.3 535.6,380.1 535.8,381.6 536,382.7 536.2,385 536.5,384.7 536.7,383.9 536.9,385.4 537.1,385.1 537.3,383.1 537.5,383.7 537.8,383.6 538,382.7 538.2,382.9 538.4,383.1 538.6,383.1 538.9,382.7 539.1,383 539.3,382.6 539.5,382.6 539.7,382.3 539.9,381.2 540.2,381.8 540.4,380.6 540.6,376.4 540.8,373.9 541,373.9 541.2,371.8 541.5,368.5 541.7,367.3 541.9,365.6 542.1,362.9 542.3,358.9 542.6,355.8 542.8,354.4 543,352.5 543.2,349.9 543.4,345.6 543.6,340.7 543.9,338.4 544.1,336.3 544.3,332.4 544.5,329.5 544.7,330.1 545,330.3 545.2,332.7 545.4,334.9 545.6,334.2 545.8,334.4 546,333.1 546.3,331.9 546.5,330.7 546.7,328.3 546.9,326.6 547.1,325.9 547.3,325 547.6,323 547.8,323.1 548,322.4 548.2,320.7 548.4,321.4 548.7,321.9 548.9,322.5 549.1,323.2 549.3,323.8 549.5,326.2 549.7,328.7 550,328.8 550.2,330.5 550.4,333.6 550.6,336.1 550.8,338 551.1,341.7 551.3,344.7 551.5,347 551.7,349.9 551.9,350.2 552.1,351.9 552.4,352.8 552.6,352.4 552.8,353.1 553,353.2 553.2,354 553.4,355 553.7,354.1 553.9,353.1 554.1,354.8 554.3,357.4 554.5,356.4 554.8,355.6 555,357.9 555.2,360.4 555.4,362 555.6,362.1 555.8,363.3 556.1,363.2 556.3,363.4 556.5,365.1 556.7,366.7 556.9,368.5 557.2,369.2 557.4,369.2 557.6,369.8 557.8,370.3 558,369.1 558.2,367.9 558.5,366.3 558.7,365.7 558.9,366.5 559.1,365.3 559.3,362.1 559.5,360.9 559.8,360.4 560,358.7 560.2,356.9 560.4,355 560.6,354.5 560.9,354.2 561.1,352.5 561.3,351 561.5,350.5 561.7,350.1 561.9,350.4 562.2,350.6 562.4,349.2 562.6,349 562.8,348 563,346.8 563.2,345.4 563.5,343 563.7,341.9 563.9,339.4 564.1,337.5 564.3,336.5 564.6,334.8 564.8,333.7 565,331.3 565.2,329.8 565.4,329.3 565.6,328.6 565.9,330.4 566.1,331.7 566.3,333.6 566.5,335.8 566.7,337.6 567,338.1 567.2,340 567.4,341.6 567.6,342.3 567.8,340.9 568,340 568.3,341.8 568.5,343.1 568.7,345.6 568.9,347.9 569.1,349 569.3,350.4 569.6,352.8 569.8,355.1 570,355.9 570.2,356.8 570.4,360.2 570.7,360.6 570.9,357.5 571.1,357.1 571.3,357 571.5,356.7 571.7,355.5 572,354.4 572.2,356.8 572.4,357.2 572.6,355.8 572.8,357 573.1,360.4 573.3,360.6 573.5,360.6 573.7,360.8 573.9,363 574.1,366.5 574.4,367.1 574.6,367.1 574.8,368 575,368.8 575.2,371.3 575.4,373.7 575.7,373.4 575.9,372.8 576.1,373 576.3,374.5 576.5,376.1 576.8,375.8 577,375.1 577.2,374.5 577.4,375.2 577.6,375.8 577.8,376.4 578.1,377.8 578.3,377.3 578.5,377.2 578.7,377.2 578.9,377.2 579.2,376.5 579.4,376.4 579.6,375.8 579.8,375.4 580,375.2 580.2,372.6 580.5,370.8 580.7,370.1 580.9,368.7 581.1,367.2 581.3,365.2 581.5,364.2 581.8,362.2 582,359.8 582.2,358.9 582.4,359.4 582.6,360.4 582.9,359.5 583.1,357.5 583.3,355.8 583.5,355.2 583.7,355.4 583.9,353.7 584.2,353.4 584.4,353.1 584.6,351.5 584.8,352.6 585,352.4 585.3,351.3 585.5,351.8 585.7,353.2 585.9,354.2 586.1,353.2 586.3,352.9 586.6,353.5 586.8,354.5 587,355.4 587.2,355.4 587.4,356.8 587.6,357.8 587.9,356.1 588.1,354.6 588.3,355.2 588.5,355.1 588.7,353.7 589,352.1 589.2,352.8 589.4,353.3 589.6,350.4 589.8,349.6 590,348.7 590.3,349.3 590.5,348 590.7,345 590.9,346 591.1,344.2 591.4,341.3 591.6,341.5 591.8,341.8 592,343.1 592.2,344.9 592.4,345.6 592.7,345.7 592.9,346 593.1,347.3 593.3,348.4 593.5,348.4 593.7,349.1 594,348.9 594.2,347.4 594.4,349.5 594.6,351.1 594.8,351 595.1,351.1 595.3,349.6 595.5,349.8 595.7,351.5 595.9,351.7 596.1,351.1 596.4,351.8 596.6,353.3 596.8,352.8 597,352.5 597.2,353 597.4,352.9 597.7,354.1 597.9,354.8 598.1,354.8 598.3,354.1 598.5,352.5 598.8,353.2 599,352.2 599.2,351.6 599.4,351.1 599.6,349.5 599.8,350.2 600.1,350.5 600.3,349.3 600.5,347.9 600.7,347.4 600.9,346.3 601.2,346 601.4,345.6 601.6,343.9 601.8,344.5 602,343.5 602.2,342.9 602.5,344.7 602.7,344.1 602.9,342.4 603.1,341.2 603.3,341.2 603.5,340.6 603.8,339.7 604,340.4 604.2,341 604.4,341.9 604.6,343.7 604.9,343.9 605.1,343.4 605.3,344.1 605.5,345.5 605.7,347.3 605.9,347.4 606.2,346.7 606.4,348.7 606.6,349.5 606.8,348.8 607,349.6 607.3,350.2 607.5,349.8 607.7,351.5 607.9,352.3 608.1,351.2 608.3,350.5 608.6,350 608.8,352.1 609,353.2 609.2,351.3 609.4,350.2 609.6,349.4 609.9,350.8 610.1,352 610.3,352 610.5,351 610.7,351.1 611,350.9 611.2,349.5 611.4,350.1 611.6,352.3 611.8,353.2 612,351.4 612.3,352 612.5,352.8 612.7,352.1 612.9,351.4 613.1,351.3 613.4,351.8 613.6,352.4 613.8,352.7 614,352.7 614.2,352.3 614.4,352.4 614.7,352.4 614.9,353.5 615.1,353.6 615.3,352.7 615.5,352.9 615.7,352.9 616,353.3 616.2,352.5 616.4,353.6 616.6,354.7 616.8,354.6 617.1,354.3 617.3,354.8 617.5,354.6 617.7,353.2 617.9,353.2 618.1,352.7 618.4,352.7 618.6,351.2 618.8,349.1 619,346.9 619.2,346 619.5,346.2 619.7,343.6 619.9,342.1 620.1,340.3 620.3,337.8 620.5,336.4 620.8,334 621,332 621.2,329.1 621.4,327 621.6,327.7 621.8,326.2 622.1,325 622.3,324.3 622.5,323 622.7,322.4 622.9,319.4 623.2,317.8 623.4,317.8 623.6,316.4 623.8,314.8 624,312.1 624.2,311.3 624.5,310.9 624.7,307.5 624.9,305.5 625.1,303.9 625.3,299.9 625.5,297.4 625.8,297.6 626,297.3 626.2,296.7 626.4,295.8 626.6,294.2 626.9,292.1 627.1,289 627.3,287.6 627.5,286.1 627.7,282.7 627.9,284 628.2,286.1 628.4,286.5 628.6,288.3 628.8,290.1 629,290.5 629.3,290.5 629.5,290.4 629.7,288.8 629.9,287.3 630.1,286.8 630.3,285.2 630.6,285 630.8,286.7 631,287.5 631.2,288.6 631.4,289.8 631.6,289.4 631.9,289.4 632.1,291 632.3,290.8 632.5,290.8 632.7,290.7 633,289.8 633.2,290.4 633.4,289.6 633.6,289.6 633.8,289.3 634,288.5 634.3,288.3 634.5,286.1 634.7,284.4 634.9,284.2 635.1,283 635.4,281.2 635.6,280.4 635.8,279.3 636,276.9 636.2,274.2 636.4,275.5 636.7,276.3 636.9,275.2 637.1,275.6 637.3,277 637.5,276.8 637.7,277.4 638,278.1 638.2,276.6 638.4,279.6 638.6,281.9 638.8,281.7 639.1,283.1 639.3,285.2 639.5,286.9 639.7,289.2 639.9,290.9 640.1,291.5 640.4,294 640.6,297 640.8,298.8 641,297.7 641.2,296.2 641.5,295.2 641.7,294 641.9,293.8 642.1,294.5 642.3,293 642.5,290.2 642.8,291.6 643,293 643.2,291.8 643.4,290.7 643.6,290.5 643.8,290.3 644.1,290.8 644.3,291.3 644.5,291.1 644.7,291.9 644.9,291.6 645.2,291 645.4,291.4 645.6,292.2 645.8,292.4 646,293 646.2,293.3 646.5,292.8 646.7,292.2 646.9,288.4 647.1,286.4 647.3,285.2 647.6,284.5 647.8,282 648,278.9 648.2,278.2 648.4,276.6 648.6,274.6 648.9,272.2 649.1,270.6 649.3,270.8 649.5,269.4 649.7,265.8 649.9,266.1 650.2,268 650.4,268.8 650.6,269.2 650.8,270 651,271.9 651.3,273.7 651.5,273 651.7,272.4 651.9,271.9 652.1,269.7 652.3,269.5 652.6,269.9 652.8,269.4 653,270.5 653.2,271.6 653.4,273.5 653.7,276.3 653.9,275.8 654.1,275.9 654.3,277.5 654.5,278.7 654.7,279.8 655,279.5 655.2,279.3 655.4,280.7 655.6,280.5 655.8,280.5 656,281.3 656.3,279.1 656.5,279.8 656.7,281.8 656.9,283.5 657.1,285.7 657.4,286.8 657.6,288.4 657.8,290.4 658,293.2 658.2,294.5 658.4,296.9 658.7,299.7 658.9,300.3 659.1,302.1 659.3,303.3 659.5,303.3 659.7,302.3 660,301.5 660.2,301.1 660.4,300.7 660.6,299.2 660.8,299.1 661.1,301.7 661.3,302 661.5,301.3 661.7,301.9 661.9,303.7 662.1,303.7 662.4,303.4 662.6,305.2 662.8,307.3 663,307.9 663.2,307.9 663.5,308.3 663.7,309.6 663.9,312.4 664.1,313.1 664.3,314 664.5,315 664.8,316.2 665,317.7 665.2,316.6 665.4,315.6 665.6,314.8 665.8,314.4 666.1,313.2 666.3,312.1 666.5,311.1 666.7,309.8 666.9,310.2 667.2,308.9 667.4,305.2 667.6,303.8 667.8,303.2 668,301.9 668.2,301.6 668.5,301.8 668.7,300 668.9,297.4 669.1,296.6 669.3,296 669.6,295.2 669.8,294.5 670,294 670.2,293.6 670.4,293.3 670.6,293.6 670.9,293.9 671.1,292.5 671.3,292 671.5,293.7 671.7,293 671.9,292.5 672.2,290.9 672.4,288.5 672.6,289 672.8,289.5 673,290.2 673.3,289.5 673.5,288.4 673.7,288.3 673.9,288.2 674.1,287.4 674.3,287.3 674.6,288.6 674.8,290.6 675,290.1 675.2,289.3 675.4,288.5 675.7,286.5 675.9,285.3 676.1,285.7 676.3,285.6 676.5,284.2 676.7,284.5 677,284.9 677.2,284.5 677.4,285.2 677.6,286.7 677.8,287.7 678,287.9 678.3,288.4 678.5,288.4 678.7,288.3 678.9,287.2 679.1,285.5 679.4,286.6 679.6,286.1 679.8,284.9 680,284 680.2,282.8 680.4,283 680.7,282.7 680.9,282.9 681.1,282.9 681.3,282.2 681.5,282.3 681.8,282.1 682,282.8 682.2,283.4 682.4,284.1 682.6,284.8 682.8,284.3 683.1,284.9 683.3,286.2 683.5,285.4 683.7,285.8 683.9,286.5 684.1,285.6 684.4,283.6 684.6,282.2 684.8,281.3 685,280.4 685.2,279.6 685.5,278.3 685.7,278.4 685.9,278.8 686.1,280.5 686.3,280.4 686.5,281.1 686.8,282.5 687,281.7 687.2,282.8 687.4,283.3 687.6,282.9 687.9,284.5 688.1,284.6 688.3,284.1 688.5,285.2 688.7,286.3 688.9,285.9 689.2,285.8 689.4,286.9 689.6,287.7 689.8,287.4 690,286.5 690.2,284.7 690.5,283.1 690.7,282.6 690.9,281.3 691.1,280.9 691.3,281.3 691.6,280.9 691.8,279 692,279.7 692.2,280.4 692.4,278.3 692.6,278.1 692.9,276.4 693.1,275.3 693.3,275.9 693.5,277.4 693.7,278 693.9,278.2 694.2,279 694.4,279.1 694.6,279.9 694.8,280.1 695,279.2 695.3,279.5 695.5,280.9 695.7,284.6 695.9,285.8 696.1,285.6 696.3,288.2 696.6,290.9 696.8,292.2 697,293.7 697.2,295 697.4,296.6 697.7,299 697.9,299.7 698.1,301.4 698.3,302.3 698.5,301.8 698.7,303.5 699,304.1 699.2,304.5 699.4,305.6 699.6,304 699.8,303.5 700,302.9 700.3,302.6 700.5,301.6 700.7,299.9 700.9,298.9 701.1,298.4 701.4,300.9 701.6,301.7 701.8,301.2 702,302.6 702.2,303.3 702.4,303.7 702.7,305.5 702.9,307.4 703.1,308.1 703.3,309.7 703.5,310.6 703.8,310.4 704,311.3 704.2,312.2 704.4,312 704.6,311.2 704.8,310.9 705.1,310.6 705.3,308.9 705.5,306.8 705.7,305.5 705.9,303.4 706.1,302.9 706.4,304.6 706.6,305.8 706.8,307.6 707,307.3 707.2,307.5 707.5,311.3 707.7,312.3 707.9,312 708.1,312 708.3,312 708.5,313.3 708.8,313.7 709,312.4 709.2,311.1 709.4,310.1 709.6,308.8 709.9,307 710.1,306.2 710.3,305.8 710.5,304.5 710.7,304.1 710.9,302.9 711.2,302.8 711.4,302.8 711.6,302 711.8,300.8 712,299.9 712.2,299.7 712.5,298.5 712.7,299 712.9,298.3 713.1,297.1 713.3,296.8 713.6,295.7 713.8,294.3 714,293.1 714.2,291.8 714.4,291.4 714.6,292.3 714.9,292.3 715.1,291.2 715.3,289.5 715.5,289.3 715.7,290.3 716,290 716.2,289.1 716.4,288.8 716.6,289.1 716.8,290.3 717,289.4 717.3,286.4 717.5,285.1 717.7,286.5 717.9,285.9 718.1,284.9 718.3,282.9 718.6,280.9 718.8,281.9 719,279.3 719.2,276.8 719.4,274.7 719.7,272 719.9,270.8 720.1,268.5 720.3,267.7 720.5,266.3 720.7,264.5 721,265.1 721.2,265.4 721.4,262.7 721.6,259.3 721.8,259.8 722.1,258.4 722.3,256.2 722.5,256.1 722.7,254.8 722.9,253 723.1,250.2 723.4,248.1 723.6,248.4 723.8,245.3 724,241.8 724.2,242.2 724.4,241.4 724.7,239.7 724.9,237.8 725.1,235.4 725.3,233.7 725.5,232.9 725.8,232.4 726,230.2 726.2,228.6 726.4,226.4 726.6,227.6 726.8,229.8 727.1,230.5 727.3,232.7 727.5,233.1 727.7,235.2 727.9,239.3 728.1,242.3 728.4,243.7 728.6,247 728.8,249.4 729,249.8 729.2,252.5 729.5,253.6 729.7,253.9 729.9,256 730.1,258.6 730.3,259.2 730.5,259.2 730.8,261.9 731,263.9 731.2,264.4 731.4,265.4 731.6,266.1 731.9,263.5 732.1,260.7 732.3,259.5 732.5,256.9 732.7,255.5 732.9,255.9 733.2,256.7 733.4,258.2 733.6,259.8 733.8,260.3 734,261.6 734.2,262.3 734.5,263.4 734.7,264.8 734.9,265.9 735.1,266.7 735.3,266.9 735.6,265.7 735.8,263.2 736,262.2 736.2,259.9 736.4,257.7 736.6,256.9 736.9,257.9 737.1,260.7 737.3,261.6 737.5,262.3 737.7,264 738,265.4 738.2,266.2 738.4,263.4 738.6,261.5 738.8,261.3 739,258.6 739.3,257.6 739.5,255.8 739.7,252.9 739.9,252.5 740.1,252.6 740.3,251.5 740.6,250.9 740.8,248.5 741,248.6 741.2,252 741.4,254.7 741.7,255.9 741.9,256.3 742.1,259.5 742.3,261 742.5,260.9 742.7,259.6 743,258 743.2,256.5 743.4,256.3 743.6,257.6 743.8,257.6 744.1,256.4 744.3,256.6 744.5,256.3 744.7,254.7 744.9,255 745.1,254.8 745.4,252.9 745.6,250.2 745.8,250.2 746,250.2 746.2,248.2 746.4,249.9 746.7,252.1 746.9,253.4 747.1,254.2 747.3,254.4 747.5,255.2 747.8,255.2 748,255.5 748.2,255.4 748.4,254.6 748.6,252.8 748.8,252.3 749.1,253.9 749.3,253.8 749.5,253.6 749.7,255.1"/>
<rect x="584.5" y="152" width="169" height="165.5" fill="none" stroke="#1f3c88" stroke-width="1.8" stroke-dasharray="4.5 4.5"/>
<text x="420.5" y="395" class="ax" text-anchor="end">-100</text>
<text x="420.5" y="348" class="ax" text-anchor="end">-50</text>
<text x="420.5" y="301" class="ax" text-anchor="end">0</text>
<text x="420.5" y="254" class="ax" text-anchor="end">50</text>
<text x="420.5" y="207" class="ax" text-anchor="end">100</text>
<text x="420.5" y="160" class="ax" text-anchor="end">150</text>
<text x="757.5" y="395.2" class="ax">70</text>
<text x="757.5" y="356" class="ax">80</text>
<text x="757.5" y="316.8" class="ax">90</text>
<text x="757.5" y="277.6" class="ax">100</text>
<text x="757.5" y="238.4" class="ax">110</text>
<text x="757.5" y="199.2" class="ax">120</text>
<text x="757.5" y="160" class="ax">130</text>
<text x="429.5" y="405.3" class="axb" text-anchor="middle">00</text>
<text x="442.6" y="405.3" class="axb" text-anchor="middle">01</text>
<text x="455.6" y="405.3" class="axb" text-anchor="middle">02</text>
<text x="468.7" y="405.3" class="axb" text-anchor="middle">03</text>
<text x="481.8" y="405.3" class="axb" text-anchor="middle">04</text>
<text x="494.9" y="405.3" class="axb" text-anchor="middle">05</text>
<text x="507.9" y="405.3" class="axb" text-anchor="middle">06</text>
<text x="521" y="405.3" class="axb" text-anchor="middle">07</text>
<text x="534.1" y="405.3" class="axb" text-anchor="middle">08</text>
<text x="547.1" y="405.3" class="axb" text-anchor="middle">09</text>
<text x="560.2" y="405.3" class="axb" text-anchor="middle">10</text>
<text x="573.3" y="405.3" class="axb" text-anchor="middle">11</text>
<text x="586.3" y="405.3" class="axb" text-anchor="middle">12</text>
<text x="599.4" y="405.3" class="axb" text-anchor="middle">13</text>
<text x="612.5" y="405.3" class="axb" text-anchor="middle">14</text>
<text x="625.5" y="405.3" class="axb" text-anchor="middle">15</text>
<text x="638.6" y="405.3" class="axb" text-anchor="middle">16</text>
<text x="651.7" y="405.3" class="axb" text-anchor="middle">17</text>
<text x="664.8" y="405.3" class="axb" text-anchor="middle">18</text>
<text x="677.8" y="405.3" class="axb" text-anchor="middle">19</text>
<text x="690.9" y="405.3" class="axb" text-anchor="middle">20</text>
<text x="704" y="405.3" class="axb" text-anchor="middle">21</text>
<text x="717" y="405.3" class="axb" text-anchor="middle">22</text>
<text x="730.1" y="405.3" class="axb" text-anchor="middle">23</text>
<text x="743.2" y="405.3" class="axb" text-anchor="middle">24</text>
</svg>
<div class="leg" style="left:142px;top:136px">美元指数</div>
<div class="leg" style="left:206px;top:136px">有效联邦基金利率（右）</div>
<div class="leg" style="left:501px;top:135.6px;letter-spacing:0.9px"><span style="letter-spacing:0;font-weight:700;font-size:8.4px">ZEW</span>经济现状：美国-欧元区</div>
<div class="leg" style="left:640px;top:135.6px;letter-spacing:0.8px">美元指数（右）</div>

<div id="src">数据来源：<span style="font-weight:400">Wind</span>，财通证券研究所</div>
<div id="wm">雪球：九牛量化</div>
<svg width="800" height="449" viewBox="0 0 800 449" style="pointer-events:none">
<g fill="none" stroke-linecap="round" transform="translate(0.7,0.7)" stroke="#a6a6a6" stroke-width="2.2">
<circle cx="599" cy="424" r="12.3"/>
<path d="M589.5,415.5 L595.8,421.5 Q596.6,422.8 595.6,424.2 L591,428.8"/>
<path d="M605.5,418.8 L601.6,423.2 Q600.8,424.6 601.8,426 L606,431"/>
</g>
<g fill="none" stroke-linecap="round" stroke="#dcdcdc" stroke-width="2.2">
<circle cx="599" cy="424" r="12.3"/>
<path d="M589.5,415.5 L595.8,421.5 Q596.6,422.8 595.6,424.2 L591,428.8"/>
<path d="M605.5,418.8 L601.6,423.2 Q600.8,424.6 601.8,426 L606,431"/>
</g>
</svg>
<div id="pg">28</div>
</body>
</html>
